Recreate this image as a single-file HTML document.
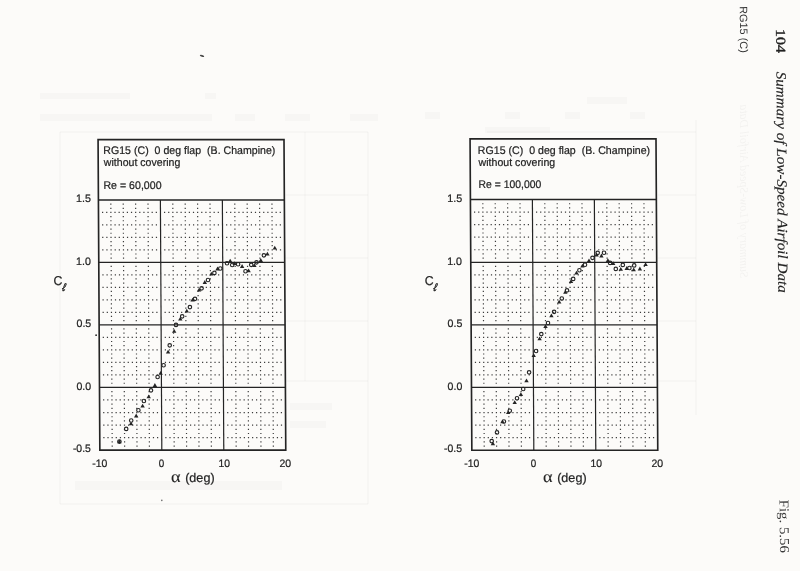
<!DOCTYPE html>
<html><head><meta charset="utf-8"><title>RG15 (C) lift curves</title>
<style>
html,body{margin:0;padding:0;background:#fcfbf9;}
body{width:800px;height:571px;overflow:hidden;}
svg{display:block;}
text{fill:#242424;}
.t,.h,.ax,.cl{font-family:"Liberation Sans",Arial,sans-serif;stroke:#242424;stroke-width:0.22px;}
.t{font-size:10.8px;}
.h{font-size:11px;}
.ax{font-size:12.6px;}
.cl{font-size:12.9px;}
.al{font-family:"Liberation Serif",serif;font-size:16.5px;stroke:#242424;stroke-width:0.1px;}
.ell{font-family:"Liberation Serif",serif;font-style:italic;font-size:10.5px;stroke:#242424;stroke-width:0.45px;}
.rg{font-family:"Liberation Sans",Arial,sans-serif;font-size:10.8px;fill:#333;}
.pn{font-family:"Liberation Serif",serif;font-size:13.6px;fill:#222;stroke:#222;stroke-width:0.35px;}
.ti{font-family:"Liberation Serif",serif;font-style:italic;font-size:14.2px;fill:#222;stroke:#222;stroke-width:0.15px;}
.fg{font-family:"Liberation Serif",serif;font-size:13.6px;fill:#3a3a3a;}
</style></head>
<body>
<svg width="800" height="571" viewBox="0 0 800 571">
<rect width="800" height="571" fill="#fcfbf9"/>
<g><line x1="60.0" y1="132.0" x2="368.0" y2="132.0" stroke="#000" stroke-opacity="0.042" stroke-width="1.0"/>
<line x1="487.0" y1="132.0" x2="696.0" y2="132.0" stroke="#000" stroke-opacity="0.042" stroke-width="1.0"/>
<line x1="285.5" y1="195.0" x2="368.0" y2="195.0" stroke="#000" stroke-opacity="0.042" stroke-width="1.0"/>
<line x1="658.0" y1="195.0" x2="696.0" y2="195.0" stroke="#000" stroke-opacity="0.042" stroke-width="1.0"/>
<line x1="285.5" y1="258.0" x2="368.0" y2="258.0" stroke="#000" stroke-opacity="0.042" stroke-width="1.0"/>
<line x1="658.0" y1="258.0" x2="696.0" y2="258.0" stroke="#000" stroke-opacity="0.042" stroke-width="1.0"/>
<line x1="285.5" y1="321.0" x2="368.0" y2="321.0" stroke="#000" stroke-opacity="0.042" stroke-width="1.0"/>
<line x1="658.0" y1="321.0" x2="696.0" y2="321.0" stroke="#000" stroke-opacity="0.042" stroke-width="1.0"/>
<line x1="285.5" y1="381.0" x2="368.0" y2="381.0" stroke="#000" stroke-opacity="0.042" stroke-width="1.0"/>
<line x1="658.0" y1="381.0" x2="696.0" y2="381.0" stroke="#000" stroke-opacity="0.042" stroke-width="1.0"/>
<line x1="60.0" y1="504.0" x2="368.0" y2="504.0" stroke="#000" stroke-opacity="0.042" stroke-width="1.0"/>
<line x1="60.0" y1="132.0" x2="60.0" y2="504.0" stroke="#000" stroke-opacity="0.042" stroke-width="1.0"/>
<line x1="368.0" y1="132.0" x2="368.0" y2="504.0" stroke="#000" stroke-opacity="0.042" stroke-width="1.0"/>
<line x1="696.0" y1="120.0" x2="696.0" y2="415.0" stroke="#000" stroke-opacity="0.042" stroke-width="1.0"/>
<line x1="305.0" y1="132.0" x2="305.0" y2="381.0" stroke="#000" stroke-opacity="0.035" stroke-width="1.0"/>
<rect x="40.0" y="93.0" width="90.0" height="6.0" fill="#000" fill-opacity="0.020"/>
<rect x="205.0" y="93.0" width="11.0" height="6.0" fill="#000" fill-opacity="0.020"/>
<rect x="40.0" y="114.0" width="172.0" height="7.0" fill="#000" fill-opacity="0.020"/>
<rect x="235.0" y="114.0" width="20.0" height="7.0" fill="#000" fill-opacity="0.020"/>
<rect x="285.0" y="114.0" width="25.0" height="7.0" fill="#000" fill-opacity="0.020"/>
<rect x="350.0" y="114.0" width="28.0" height="7.0" fill="#000" fill-opacity="0.020"/>
<rect x="425.0" y="112.0" width="15.0" height="7.0" fill="#000" fill-opacity="0.020"/>
<rect x="505.0" y="112.0" width="15.0" height="7.0" fill="#000" fill-opacity="0.020"/>
<rect x="565.0" y="112.0" width="15.0" height="7.0" fill="#000" fill-opacity="0.020"/>
<rect x="630.0" y="112.0" width="15.0" height="7.0" fill="#000" fill-opacity="0.020"/>
<rect x="587.0" y="97.0" width="40.0" height="7.0" fill="#000" fill-opacity="0.020"/>
<rect x="485.0" y="127.0" width="65.0" height="6.0" fill="#000" fill-opacity="0.020"/>
<rect x="290.0" y="403.0" width="42.0" height="7.0" fill="#000" fill-opacity="0.020"/>
<rect x="290.0" y="421.0" width="36.0" height="7.0" fill="#000" fill-opacity="0.020"/>
<rect x="75.0" y="481.0" width="207.0" height="9.0" fill="#000" fill-opacity="0.020"/>
<text transform="translate(739.5 105) scale(1 -1) rotate(90) translate(-173.00 0)" font-family="Liberation Serif" font-style="italic" font-size="13.00" fill="#000" fill-opacity="0.045" textLength="173.62" lengthAdjust="spacingAndGlyphs">Summary of Low-Speed Airfoil Data</text></g>
<g transform="translate(98.07 139.56) matrix(1 -0.00000 0.00570 1 0 0) translate(-98.07 -139.56)">
<path d="M109.87 203.55h1.2v1.2h-1.2zM109.87 207.71h1.2v1.2h-1.2zM109.87 211.86h1.2v1.2h-1.2zM109.87 216.01h1.2v1.2h-1.2zM109.87 220.17h1.2v1.2h-1.2zM109.87 224.32h1.2v1.2h-1.2zM109.87 228.47h1.2v1.2h-1.2zM109.87 232.63h1.2v1.2h-1.2zM109.87 236.78h1.2v1.2h-1.2zM109.87 240.93h1.2v1.2h-1.2zM109.87 245.09h1.2v1.2h-1.2zM109.87 249.24h1.2v1.2h-1.2zM109.87 253.39h1.2v1.2h-1.2zM109.87 257.55h1.2v1.2h-1.2zM109.87 265.87h1.2v1.2h-1.2zM109.87 270.03h1.2v1.2h-1.2zM109.87 274.20h1.2v1.2h-1.2zM109.87 278.37h1.2v1.2h-1.2zM109.87 282.53h1.2v1.2h-1.2zM109.87 286.70h1.2v1.2h-1.2zM109.87 290.87h1.2v1.2h-1.2zM109.87 295.03h1.2v1.2h-1.2zM109.87 299.20h1.2v1.2h-1.2zM109.87 303.37h1.2v1.2h-1.2zM109.87 307.53h1.2v1.2h-1.2zM109.87 311.70h1.2v1.2h-1.2zM109.87 315.87h1.2v1.2h-1.2zM109.87 320.03h1.2v1.2h-1.2zM109.87 328.37h1.2v1.2h-1.2zM109.87 332.55h1.2v1.2h-1.2zM109.87 336.72h1.2v1.2h-1.2zM109.87 340.89h1.2v1.2h-1.2zM109.87 345.07h1.2v1.2h-1.2zM109.87 349.24h1.2v1.2h-1.2zM109.87 353.41h1.2v1.2h-1.2zM109.87 357.59h1.2v1.2h-1.2zM109.87 361.76h1.2v1.2h-1.2zM109.87 365.93h1.2v1.2h-1.2zM109.87 370.11h1.2v1.2h-1.2zM109.87 374.28h1.2v1.2h-1.2zM109.87 378.45h1.2v1.2h-1.2zM109.87 382.63h1.2v1.2h-1.2zM109.87 390.99h1.2v1.2h-1.2zM109.87 395.18h1.2v1.2h-1.2zM109.87 399.37h1.2v1.2h-1.2zM109.87 403.56h1.2v1.2h-1.2zM109.87 407.75h1.2v1.2h-1.2zM109.87 411.94h1.2v1.2h-1.2zM109.87 416.13h1.2v1.2h-1.2zM109.87 420.32h1.2v1.2h-1.2zM109.87 424.51h1.2v1.2h-1.2zM109.87 428.70h1.2v1.2h-1.2zM109.87 432.89h1.2v1.2h-1.2zM109.87 437.08h1.2v1.2h-1.2zM109.87 441.27h1.2v1.2h-1.2zM109.87 445.46h1.2v1.2h-1.2zM122.26 203.55h1.2v1.2h-1.2zM122.26 207.71h1.2v1.2h-1.2zM122.26 211.86h1.2v1.2h-1.2zM122.26 216.01h1.2v1.2h-1.2zM122.26 220.17h1.2v1.2h-1.2zM122.26 224.32h1.2v1.2h-1.2zM122.26 228.47h1.2v1.2h-1.2zM122.26 232.63h1.2v1.2h-1.2zM122.26 236.78h1.2v1.2h-1.2zM122.26 240.93h1.2v1.2h-1.2zM122.26 245.09h1.2v1.2h-1.2zM122.26 249.24h1.2v1.2h-1.2zM122.26 253.39h1.2v1.2h-1.2zM122.26 257.55h1.2v1.2h-1.2zM122.26 265.87h1.2v1.2h-1.2zM122.26 270.03h1.2v1.2h-1.2zM122.26 274.20h1.2v1.2h-1.2zM122.26 278.37h1.2v1.2h-1.2zM122.26 282.53h1.2v1.2h-1.2zM122.26 286.70h1.2v1.2h-1.2zM122.26 290.87h1.2v1.2h-1.2zM122.26 295.03h1.2v1.2h-1.2zM122.26 299.20h1.2v1.2h-1.2zM122.26 303.37h1.2v1.2h-1.2zM122.26 307.53h1.2v1.2h-1.2zM122.26 311.70h1.2v1.2h-1.2zM122.26 315.87h1.2v1.2h-1.2zM122.26 320.03h1.2v1.2h-1.2zM122.26 328.37h1.2v1.2h-1.2zM122.26 332.55h1.2v1.2h-1.2zM122.26 336.72h1.2v1.2h-1.2zM122.26 340.89h1.2v1.2h-1.2zM122.26 345.07h1.2v1.2h-1.2zM122.26 349.24h1.2v1.2h-1.2zM122.26 353.41h1.2v1.2h-1.2zM122.26 357.59h1.2v1.2h-1.2zM122.26 361.76h1.2v1.2h-1.2zM122.26 365.93h1.2v1.2h-1.2zM122.26 370.11h1.2v1.2h-1.2zM122.26 374.28h1.2v1.2h-1.2zM122.26 378.45h1.2v1.2h-1.2zM122.26 382.63h1.2v1.2h-1.2zM122.26 390.99h1.2v1.2h-1.2zM122.26 395.18h1.2v1.2h-1.2zM122.26 399.37h1.2v1.2h-1.2zM122.26 403.56h1.2v1.2h-1.2zM122.26 407.75h1.2v1.2h-1.2zM122.26 411.94h1.2v1.2h-1.2zM122.26 416.13h1.2v1.2h-1.2zM122.26 420.32h1.2v1.2h-1.2zM122.26 424.51h1.2v1.2h-1.2zM122.26 428.70h1.2v1.2h-1.2zM122.26 432.89h1.2v1.2h-1.2zM122.26 437.08h1.2v1.2h-1.2zM122.26 441.27h1.2v1.2h-1.2zM122.26 445.46h1.2v1.2h-1.2zM134.66 203.55h1.2v1.2h-1.2zM134.66 207.71h1.2v1.2h-1.2zM134.66 211.86h1.2v1.2h-1.2zM134.66 216.01h1.2v1.2h-1.2zM134.66 220.17h1.2v1.2h-1.2zM134.66 224.32h1.2v1.2h-1.2zM134.66 228.47h1.2v1.2h-1.2zM134.66 232.63h1.2v1.2h-1.2zM134.66 236.78h1.2v1.2h-1.2zM134.66 240.93h1.2v1.2h-1.2zM134.66 245.09h1.2v1.2h-1.2zM134.66 249.24h1.2v1.2h-1.2zM134.66 253.39h1.2v1.2h-1.2zM134.66 257.55h1.2v1.2h-1.2zM134.66 265.87h1.2v1.2h-1.2zM134.66 270.03h1.2v1.2h-1.2zM134.66 274.20h1.2v1.2h-1.2zM134.66 278.37h1.2v1.2h-1.2zM134.66 282.53h1.2v1.2h-1.2zM134.66 286.70h1.2v1.2h-1.2zM134.66 290.87h1.2v1.2h-1.2zM134.66 295.03h1.2v1.2h-1.2zM134.66 299.20h1.2v1.2h-1.2zM134.66 303.37h1.2v1.2h-1.2zM134.66 307.53h1.2v1.2h-1.2zM134.66 311.70h1.2v1.2h-1.2zM134.66 315.87h1.2v1.2h-1.2zM134.66 320.03h1.2v1.2h-1.2zM134.66 328.37h1.2v1.2h-1.2zM134.66 332.55h1.2v1.2h-1.2zM134.66 336.72h1.2v1.2h-1.2zM134.66 340.89h1.2v1.2h-1.2zM134.66 345.07h1.2v1.2h-1.2zM134.66 349.24h1.2v1.2h-1.2zM134.66 353.41h1.2v1.2h-1.2zM134.66 357.59h1.2v1.2h-1.2zM134.66 361.76h1.2v1.2h-1.2zM134.66 365.93h1.2v1.2h-1.2zM134.66 370.11h1.2v1.2h-1.2zM134.66 374.28h1.2v1.2h-1.2zM134.66 378.45h1.2v1.2h-1.2zM134.66 382.63h1.2v1.2h-1.2zM134.66 390.99h1.2v1.2h-1.2zM134.66 395.18h1.2v1.2h-1.2zM134.66 399.37h1.2v1.2h-1.2zM134.66 403.56h1.2v1.2h-1.2zM134.66 407.75h1.2v1.2h-1.2zM134.66 411.94h1.2v1.2h-1.2zM134.66 416.13h1.2v1.2h-1.2zM134.66 420.32h1.2v1.2h-1.2zM134.66 424.51h1.2v1.2h-1.2zM134.66 428.70h1.2v1.2h-1.2zM134.66 432.89h1.2v1.2h-1.2zM134.66 437.08h1.2v1.2h-1.2zM134.66 441.27h1.2v1.2h-1.2zM134.66 445.46h1.2v1.2h-1.2zM147.05 203.55h1.2v1.2h-1.2zM147.05 207.71h1.2v1.2h-1.2zM147.05 211.86h1.2v1.2h-1.2zM147.05 216.01h1.2v1.2h-1.2zM147.05 220.17h1.2v1.2h-1.2zM147.05 224.32h1.2v1.2h-1.2zM147.05 228.47h1.2v1.2h-1.2zM147.05 232.63h1.2v1.2h-1.2zM147.05 236.78h1.2v1.2h-1.2zM147.05 240.93h1.2v1.2h-1.2zM147.05 245.09h1.2v1.2h-1.2zM147.05 249.24h1.2v1.2h-1.2zM147.05 253.39h1.2v1.2h-1.2zM147.05 257.55h1.2v1.2h-1.2zM147.05 265.87h1.2v1.2h-1.2zM147.05 270.03h1.2v1.2h-1.2zM147.05 274.20h1.2v1.2h-1.2zM147.05 278.37h1.2v1.2h-1.2zM147.05 282.53h1.2v1.2h-1.2zM147.05 286.70h1.2v1.2h-1.2zM147.05 290.87h1.2v1.2h-1.2zM147.05 295.03h1.2v1.2h-1.2zM147.05 299.20h1.2v1.2h-1.2zM147.05 303.37h1.2v1.2h-1.2zM147.05 307.53h1.2v1.2h-1.2zM147.05 311.70h1.2v1.2h-1.2zM147.05 315.87h1.2v1.2h-1.2zM147.05 320.03h1.2v1.2h-1.2zM147.05 328.37h1.2v1.2h-1.2zM147.05 332.55h1.2v1.2h-1.2zM147.05 336.72h1.2v1.2h-1.2zM147.05 340.89h1.2v1.2h-1.2zM147.05 345.07h1.2v1.2h-1.2zM147.05 349.24h1.2v1.2h-1.2zM147.05 353.41h1.2v1.2h-1.2zM147.05 357.59h1.2v1.2h-1.2zM147.05 361.76h1.2v1.2h-1.2zM147.05 365.93h1.2v1.2h-1.2zM147.05 370.11h1.2v1.2h-1.2zM147.05 374.28h1.2v1.2h-1.2zM147.05 378.45h1.2v1.2h-1.2zM147.05 382.63h1.2v1.2h-1.2zM147.05 390.99h1.2v1.2h-1.2zM147.05 395.18h1.2v1.2h-1.2zM147.05 399.37h1.2v1.2h-1.2zM147.05 403.56h1.2v1.2h-1.2zM147.05 407.75h1.2v1.2h-1.2zM147.05 411.94h1.2v1.2h-1.2zM147.05 416.13h1.2v1.2h-1.2zM147.05 420.32h1.2v1.2h-1.2zM147.05 424.51h1.2v1.2h-1.2zM147.05 428.70h1.2v1.2h-1.2zM147.05 432.89h1.2v1.2h-1.2zM147.05 437.08h1.2v1.2h-1.2zM147.05 441.27h1.2v1.2h-1.2zM147.05 445.46h1.2v1.2h-1.2zM171.84 203.55h1.2v1.2h-1.2zM171.84 207.71h1.2v1.2h-1.2zM171.84 211.86h1.2v1.2h-1.2zM171.84 216.01h1.2v1.2h-1.2zM171.84 220.17h1.2v1.2h-1.2zM171.84 224.32h1.2v1.2h-1.2zM171.84 228.47h1.2v1.2h-1.2zM171.84 232.63h1.2v1.2h-1.2zM171.84 236.78h1.2v1.2h-1.2zM171.84 240.93h1.2v1.2h-1.2zM171.84 245.09h1.2v1.2h-1.2zM171.84 249.24h1.2v1.2h-1.2zM171.84 253.39h1.2v1.2h-1.2zM171.84 257.55h1.2v1.2h-1.2zM171.84 265.87h1.2v1.2h-1.2zM171.84 270.03h1.2v1.2h-1.2zM171.84 274.20h1.2v1.2h-1.2zM171.84 278.37h1.2v1.2h-1.2zM171.84 282.53h1.2v1.2h-1.2zM171.84 286.70h1.2v1.2h-1.2zM171.84 290.87h1.2v1.2h-1.2zM171.84 295.03h1.2v1.2h-1.2zM171.84 299.20h1.2v1.2h-1.2zM171.84 303.37h1.2v1.2h-1.2zM171.84 307.53h1.2v1.2h-1.2zM171.84 311.70h1.2v1.2h-1.2zM171.84 315.87h1.2v1.2h-1.2zM171.84 320.03h1.2v1.2h-1.2zM171.84 328.37h1.2v1.2h-1.2zM171.84 332.55h1.2v1.2h-1.2zM171.84 336.72h1.2v1.2h-1.2zM171.84 340.89h1.2v1.2h-1.2zM171.84 345.07h1.2v1.2h-1.2zM171.84 349.24h1.2v1.2h-1.2zM171.84 353.41h1.2v1.2h-1.2zM171.84 357.59h1.2v1.2h-1.2zM171.84 361.76h1.2v1.2h-1.2zM171.84 365.93h1.2v1.2h-1.2zM171.84 370.11h1.2v1.2h-1.2zM171.84 374.28h1.2v1.2h-1.2zM171.84 378.45h1.2v1.2h-1.2zM171.84 382.63h1.2v1.2h-1.2zM171.84 390.99h1.2v1.2h-1.2zM171.84 395.18h1.2v1.2h-1.2zM171.84 399.37h1.2v1.2h-1.2zM171.84 403.56h1.2v1.2h-1.2zM171.84 407.75h1.2v1.2h-1.2zM171.84 411.94h1.2v1.2h-1.2zM171.84 416.13h1.2v1.2h-1.2zM171.84 420.32h1.2v1.2h-1.2zM171.84 424.51h1.2v1.2h-1.2zM171.84 428.70h1.2v1.2h-1.2zM171.84 432.89h1.2v1.2h-1.2zM171.84 437.08h1.2v1.2h-1.2zM171.84 441.27h1.2v1.2h-1.2zM171.84 445.46h1.2v1.2h-1.2zM184.24 203.55h1.2v1.2h-1.2zM184.24 207.71h1.2v1.2h-1.2zM184.24 211.86h1.2v1.2h-1.2zM184.24 216.01h1.2v1.2h-1.2zM184.24 220.17h1.2v1.2h-1.2zM184.24 224.32h1.2v1.2h-1.2zM184.24 228.47h1.2v1.2h-1.2zM184.24 232.63h1.2v1.2h-1.2zM184.24 236.78h1.2v1.2h-1.2zM184.24 240.93h1.2v1.2h-1.2zM184.24 245.09h1.2v1.2h-1.2zM184.24 249.24h1.2v1.2h-1.2zM184.24 253.39h1.2v1.2h-1.2zM184.24 257.55h1.2v1.2h-1.2zM184.24 265.87h1.2v1.2h-1.2zM184.24 270.03h1.2v1.2h-1.2zM184.24 274.20h1.2v1.2h-1.2zM184.24 278.37h1.2v1.2h-1.2zM184.24 282.53h1.2v1.2h-1.2zM184.24 286.70h1.2v1.2h-1.2zM184.24 290.87h1.2v1.2h-1.2zM184.24 295.03h1.2v1.2h-1.2zM184.24 299.20h1.2v1.2h-1.2zM184.24 303.37h1.2v1.2h-1.2zM184.24 307.53h1.2v1.2h-1.2zM184.24 311.70h1.2v1.2h-1.2zM184.24 315.87h1.2v1.2h-1.2zM184.24 320.03h1.2v1.2h-1.2zM184.24 328.37h1.2v1.2h-1.2zM184.24 332.55h1.2v1.2h-1.2zM184.24 336.72h1.2v1.2h-1.2zM184.24 340.89h1.2v1.2h-1.2zM184.24 345.07h1.2v1.2h-1.2zM184.24 349.24h1.2v1.2h-1.2zM184.24 353.41h1.2v1.2h-1.2zM184.24 357.59h1.2v1.2h-1.2zM184.24 361.76h1.2v1.2h-1.2zM184.24 365.93h1.2v1.2h-1.2zM184.24 370.11h1.2v1.2h-1.2zM184.24 374.28h1.2v1.2h-1.2zM184.24 378.45h1.2v1.2h-1.2zM184.24 382.63h1.2v1.2h-1.2zM184.24 390.99h1.2v1.2h-1.2zM184.24 395.18h1.2v1.2h-1.2zM184.24 399.37h1.2v1.2h-1.2zM184.24 403.56h1.2v1.2h-1.2zM184.24 407.75h1.2v1.2h-1.2zM184.24 411.94h1.2v1.2h-1.2zM184.24 416.13h1.2v1.2h-1.2zM184.24 420.32h1.2v1.2h-1.2zM184.24 424.51h1.2v1.2h-1.2zM184.24 428.70h1.2v1.2h-1.2zM184.24 432.89h1.2v1.2h-1.2zM184.24 437.08h1.2v1.2h-1.2zM184.24 441.27h1.2v1.2h-1.2zM184.24 445.46h1.2v1.2h-1.2zM196.63 203.55h1.2v1.2h-1.2zM196.63 207.71h1.2v1.2h-1.2zM196.63 211.86h1.2v1.2h-1.2zM196.63 216.01h1.2v1.2h-1.2zM196.63 220.17h1.2v1.2h-1.2zM196.63 224.32h1.2v1.2h-1.2zM196.63 228.47h1.2v1.2h-1.2zM196.63 232.63h1.2v1.2h-1.2zM196.63 236.78h1.2v1.2h-1.2zM196.63 240.93h1.2v1.2h-1.2zM196.63 245.09h1.2v1.2h-1.2zM196.63 249.24h1.2v1.2h-1.2zM196.63 253.39h1.2v1.2h-1.2zM196.63 257.55h1.2v1.2h-1.2zM196.63 265.87h1.2v1.2h-1.2zM196.63 270.03h1.2v1.2h-1.2zM196.63 274.20h1.2v1.2h-1.2zM196.63 278.37h1.2v1.2h-1.2zM196.63 282.53h1.2v1.2h-1.2zM196.63 286.70h1.2v1.2h-1.2zM196.63 290.87h1.2v1.2h-1.2zM196.63 295.03h1.2v1.2h-1.2zM196.63 299.20h1.2v1.2h-1.2zM196.63 303.37h1.2v1.2h-1.2zM196.63 307.53h1.2v1.2h-1.2zM196.63 311.70h1.2v1.2h-1.2zM196.63 315.87h1.2v1.2h-1.2zM196.63 320.03h1.2v1.2h-1.2zM196.63 328.37h1.2v1.2h-1.2zM196.63 332.55h1.2v1.2h-1.2zM196.63 336.72h1.2v1.2h-1.2zM196.63 340.89h1.2v1.2h-1.2zM196.63 345.07h1.2v1.2h-1.2zM196.63 349.24h1.2v1.2h-1.2zM196.63 353.41h1.2v1.2h-1.2zM196.63 357.59h1.2v1.2h-1.2zM196.63 361.76h1.2v1.2h-1.2zM196.63 365.93h1.2v1.2h-1.2zM196.63 370.11h1.2v1.2h-1.2zM196.63 374.28h1.2v1.2h-1.2zM196.63 378.45h1.2v1.2h-1.2zM196.63 382.63h1.2v1.2h-1.2zM196.63 390.99h1.2v1.2h-1.2zM196.63 395.18h1.2v1.2h-1.2zM196.63 399.37h1.2v1.2h-1.2zM196.63 403.56h1.2v1.2h-1.2zM196.63 407.75h1.2v1.2h-1.2zM196.63 411.94h1.2v1.2h-1.2zM196.63 416.13h1.2v1.2h-1.2zM196.63 420.32h1.2v1.2h-1.2zM196.63 424.51h1.2v1.2h-1.2zM196.63 428.70h1.2v1.2h-1.2zM196.63 432.89h1.2v1.2h-1.2zM196.63 437.08h1.2v1.2h-1.2zM196.63 441.27h1.2v1.2h-1.2zM196.63 445.46h1.2v1.2h-1.2zM209.03 203.55h1.2v1.2h-1.2zM209.03 207.71h1.2v1.2h-1.2zM209.03 211.86h1.2v1.2h-1.2zM209.03 216.01h1.2v1.2h-1.2zM209.03 220.17h1.2v1.2h-1.2zM209.03 224.32h1.2v1.2h-1.2zM209.03 228.47h1.2v1.2h-1.2zM209.03 232.63h1.2v1.2h-1.2zM209.03 236.78h1.2v1.2h-1.2zM209.03 240.93h1.2v1.2h-1.2zM209.03 245.09h1.2v1.2h-1.2zM209.03 249.24h1.2v1.2h-1.2zM209.03 253.39h1.2v1.2h-1.2zM209.03 257.55h1.2v1.2h-1.2zM209.03 265.87h1.2v1.2h-1.2zM209.03 270.03h1.2v1.2h-1.2zM209.03 274.20h1.2v1.2h-1.2zM209.03 278.37h1.2v1.2h-1.2zM209.03 282.53h1.2v1.2h-1.2zM209.03 286.70h1.2v1.2h-1.2zM209.03 290.87h1.2v1.2h-1.2zM209.03 295.03h1.2v1.2h-1.2zM209.03 299.20h1.2v1.2h-1.2zM209.03 303.37h1.2v1.2h-1.2zM209.03 307.53h1.2v1.2h-1.2zM209.03 311.70h1.2v1.2h-1.2zM209.03 315.87h1.2v1.2h-1.2zM209.03 320.03h1.2v1.2h-1.2zM209.03 328.37h1.2v1.2h-1.2zM209.03 332.55h1.2v1.2h-1.2zM209.03 336.72h1.2v1.2h-1.2zM209.03 340.89h1.2v1.2h-1.2zM209.03 345.07h1.2v1.2h-1.2zM209.03 349.24h1.2v1.2h-1.2zM209.03 353.41h1.2v1.2h-1.2zM209.03 357.59h1.2v1.2h-1.2zM209.03 361.76h1.2v1.2h-1.2zM209.03 365.93h1.2v1.2h-1.2zM209.03 370.11h1.2v1.2h-1.2zM209.03 374.28h1.2v1.2h-1.2zM209.03 378.45h1.2v1.2h-1.2zM209.03 382.63h1.2v1.2h-1.2zM209.03 390.99h1.2v1.2h-1.2zM209.03 395.18h1.2v1.2h-1.2zM209.03 399.37h1.2v1.2h-1.2zM209.03 403.56h1.2v1.2h-1.2zM209.03 407.75h1.2v1.2h-1.2zM209.03 411.94h1.2v1.2h-1.2zM209.03 416.13h1.2v1.2h-1.2zM209.03 420.32h1.2v1.2h-1.2zM209.03 424.51h1.2v1.2h-1.2zM209.03 428.70h1.2v1.2h-1.2zM209.03 432.89h1.2v1.2h-1.2zM209.03 437.08h1.2v1.2h-1.2zM209.03 441.27h1.2v1.2h-1.2zM209.03 445.46h1.2v1.2h-1.2zM233.82 203.55h1.2v1.2h-1.2zM233.82 207.71h1.2v1.2h-1.2zM233.82 211.86h1.2v1.2h-1.2zM233.82 216.01h1.2v1.2h-1.2zM233.82 220.17h1.2v1.2h-1.2zM233.82 224.32h1.2v1.2h-1.2zM233.82 228.47h1.2v1.2h-1.2zM233.82 232.63h1.2v1.2h-1.2zM233.82 236.78h1.2v1.2h-1.2zM233.82 240.93h1.2v1.2h-1.2zM233.82 245.09h1.2v1.2h-1.2zM233.82 249.24h1.2v1.2h-1.2zM233.82 253.39h1.2v1.2h-1.2zM233.82 257.55h1.2v1.2h-1.2zM233.82 265.87h1.2v1.2h-1.2zM233.82 270.03h1.2v1.2h-1.2zM233.82 274.20h1.2v1.2h-1.2zM233.82 278.37h1.2v1.2h-1.2zM233.82 282.53h1.2v1.2h-1.2zM233.82 286.70h1.2v1.2h-1.2zM233.82 290.87h1.2v1.2h-1.2zM233.82 295.03h1.2v1.2h-1.2zM233.82 299.20h1.2v1.2h-1.2zM233.82 303.37h1.2v1.2h-1.2zM233.82 307.53h1.2v1.2h-1.2zM233.82 311.70h1.2v1.2h-1.2zM233.82 315.87h1.2v1.2h-1.2zM233.82 320.03h1.2v1.2h-1.2zM233.82 328.37h1.2v1.2h-1.2zM233.82 332.55h1.2v1.2h-1.2zM233.82 336.72h1.2v1.2h-1.2zM233.82 340.89h1.2v1.2h-1.2zM233.82 345.07h1.2v1.2h-1.2zM233.82 349.24h1.2v1.2h-1.2zM233.82 353.41h1.2v1.2h-1.2zM233.82 357.59h1.2v1.2h-1.2zM233.82 361.76h1.2v1.2h-1.2zM233.82 365.93h1.2v1.2h-1.2zM233.82 370.11h1.2v1.2h-1.2zM233.82 374.28h1.2v1.2h-1.2zM233.82 378.45h1.2v1.2h-1.2zM233.82 382.63h1.2v1.2h-1.2zM233.82 390.99h1.2v1.2h-1.2zM233.82 395.18h1.2v1.2h-1.2zM233.82 399.37h1.2v1.2h-1.2zM233.82 403.56h1.2v1.2h-1.2zM233.82 407.75h1.2v1.2h-1.2zM233.82 411.94h1.2v1.2h-1.2zM233.82 416.13h1.2v1.2h-1.2zM233.82 420.32h1.2v1.2h-1.2zM233.82 424.51h1.2v1.2h-1.2zM233.82 428.70h1.2v1.2h-1.2zM233.82 432.89h1.2v1.2h-1.2zM233.82 437.08h1.2v1.2h-1.2zM233.82 441.27h1.2v1.2h-1.2zM233.82 445.46h1.2v1.2h-1.2zM246.21 203.55h1.2v1.2h-1.2zM246.21 207.71h1.2v1.2h-1.2zM246.21 211.86h1.2v1.2h-1.2zM246.21 216.01h1.2v1.2h-1.2zM246.21 220.17h1.2v1.2h-1.2zM246.21 224.32h1.2v1.2h-1.2zM246.21 228.47h1.2v1.2h-1.2zM246.21 232.63h1.2v1.2h-1.2zM246.21 236.78h1.2v1.2h-1.2zM246.21 240.93h1.2v1.2h-1.2zM246.21 245.09h1.2v1.2h-1.2zM246.21 249.24h1.2v1.2h-1.2zM246.21 253.39h1.2v1.2h-1.2zM246.21 257.55h1.2v1.2h-1.2zM246.21 265.87h1.2v1.2h-1.2zM246.21 270.03h1.2v1.2h-1.2zM246.21 274.20h1.2v1.2h-1.2zM246.21 278.37h1.2v1.2h-1.2zM246.21 282.53h1.2v1.2h-1.2zM246.21 286.70h1.2v1.2h-1.2zM246.21 290.87h1.2v1.2h-1.2zM246.21 295.03h1.2v1.2h-1.2zM246.21 299.20h1.2v1.2h-1.2zM246.21 303.37h1.2v1.2h-1.2zM246.21 307.53h1.2v1.2h-1.2zM246.21 311.70h1.2v1.2h-1.2zM246.21 315.87h1.2v1.2h-1.2zM246.21 320.03h1.2v1.2h-1.2zM246.21 328.37h1.2v1.2h-1.2zM246.21 332.55h1.2v1.2h-1.2zM246.21 336.72h1.2v1.2h-1.2zM246.21 340.89h1.2v1.2h-1.2zM246.21 345.07h1.2v1.2h-1.2zM246.21 349.24h1.2v1.2h-1.2zM246.21 353.41h1.2v1.2h-1.2zM246.21 357.59h1.2v1.2h-1.2zM246.21 361.76h1.2v1.2h-1.2zM246.21 365.93h1.2v1.2h-1.2zM246.21 370.11h1.2v1.2h-1.2zM246.21 374.28h1.2v1.2h-1.2zM246.21 378.45h1.2v1.2h-1.2zM246.21 382.63h1.2v1.2h-1.2zM246.21 390.99h1.2v1.2h-1.2zM246.21 395.18h1.2v1.2h-1.2zM246.21 399.37h1.2v1.2h-1.2zM246.21 403.56h1.2v1.2h-1.2zM246.21 407.75h1.2v1.2h-1.2zM246.21 411.94h1.2v1.2h-1.2zM246.21 416.13h1.2v1.2h-1.2zM246.21 420.32h1.2v1.2h-1.2zM246.21 424.51h1.2v1.2h-1.2zM246.21 428.70h1.2v1.2h-1.2zM246.21 432.89h1.2v1.2h-1.2zM246.21 437.08h1.2v1.2h-1.2zM246.21 441.27h1.2v1.2h-1.2zM246.21 445.46h1.2v1.2h-1.2zM258.61 203.55h1.2v1.2h-1.2zM258.61 207.71h1.2v1.2h-1.2zM258.61 211.86h1.2v1.2h-1.2zM258.61 216.01h1.2v1.2h-1.2zM258.61 220.17h1.2v1.2h-1.2zM258.61 224.32h1.2v1.2h-1.2zM258.61 228.47h1.2v1.2h-1.2zM258.61 232.63h1.2v1.2h-1.2zM258.61 236.78h1.2v1.2h-1.2zM258.61 240.93h1.2v1.2h-1.2zM258.61 245.09h1.2v1.2h-1.2zM258.61 249.24h1.2v1.2h-1.2zM258.61 253.39h1.2v1.2h-1.2zM258.61 257.55h1.2v1.2h-1.2zM258.61 265.87h1.2v1.2h-1.2zM258.61 270.03h1.2v1.2h-1.2zM258.61 274.20h1.2v1.2h-1.2zM258.61 278.37h1.2v1.2h-1.2zM258.61 282.53h1.2v1.2h-1.2zM258.61 286.70h1.2v1.2h-1.2zM258.61 290.87h1.2v1.2h-1.2zM258.61 295.03h1.2v1.2h-1.2zM258.61 299.20h1.2v1.2h-1.2zM258.61 303.37h1.2v1.2h-1.2zM258.61 307.53h1.2v1.2h-1.2zM258.61 311.70h1.2v1.2h-1.2zM258.61 315.87h1.2v1.2h-1.2zM258.61 320.03h1.2v1.2h-1.2zM258.61 328.37h1.2v1.2h-1.2zM258.61 332.55h1.2v1.2h-1.2zM258.61 336.72h1.2v1.2h-1.2zM258.61 340.89h1.2v1.2h-1.2zM258.61 345.07h1.2v1.2h-1.2zM258.61 349.24h1.2v1.2h-1.2zM258.61 353.41h1.2v1.2h-1.2zM258.61 357.59h1.2v1.2h-1.2zM258.61 361.76h1.2v1.2h-1.2zM258.61 365.93h1.2v1.2h-1.2zM258.61 370.11h1.2v1.2h-1.2zM258.61 374.28h1.2v1.2h-1.2zM258.61 378.45h1.2v1.2h-1.2zM258.61 382.63h1.2v1.2h-1.2zM258.61 390.99h1.2v1.2h-1.2zM258.61 395.18h1.2v1.2h-1.2zM258.61 399.37h1.2v1.2h-1.2zM258.61 403.56h1.2v1.2h-1.2zM258.61 407.75h1.2v1.2h-1.2zM258.61 411.94h1.2v1.2h-1.2zM258.61 416.13h1.2v1.2h-1.2zM258.61 420.32h1.2v1.2h-1.2zM258.61 424.51h1.2v1.2h-1.2zM258.61 428.70h1.2v1.2h-1.2zM258.61 432.89h1.2v1.2h-1.2zM258.61 437.08h1.2v1.2h-1.2zM258.61 441.27h1.2v1.2h-1.2zM258.61 445.46h1.2v1.2h-1.2zM271.00 203.55h1.2v1.2h-1.2zM271.00 207.71h1.2v1.2h-1.2zM271.00 211.86h1.2v1.2h-1.2zM271.00 216.01h1.2v1.2h-1.2zM271.00 220.17h1.2v1.2h-1.2zM271.00 224.32h1.2v1.2h-1.2zM271.00 228.47h1.2v1.2h-1.2zM271.00 232.63h1.2v1.2h-1.2zM271.00 236.78h1.2v1.2h-1.2zM271.00 240.93h1.2v1.2h-1.2zM271.00 245.09h1.2v1.2h-1.2zM271.00 249.24h1.2v1.2h-1.2zM271.00 253.39h1.2v1.2h-1.2zM271.00 257.55h1.2v1.2h-1.2zM271.00 265.87h1.2v1.2h-1.2zM271.00 270.03h1.2v1.2h-1.2zM271.00 274.20h1.2v1.2h-1.2zM271.00 278.37h1.2v1.2h-1.2zM271.00 282.53h1.2v1.2h-1.2zM271.00 286.70h1.2v1.2h-1.2zM271.00 290.87h1.2v1.2h-1.2zM271.00 295.03h1.2v1.2h-1.2zM271.00 299.20h1.2v1.2h-1.2zM271.00 303.37h1.2v1.2h-1.2zM271.00 307.53h1.2v1.2h-1.2zM271.00 311.70h1.2v1.2h-1.2zM271.00 315.87h1.2v1.2h-1.2zM271.00 320.03h1.2v1.2h-1.2zM271.00 328.37h1.2v1.2h-1.2zM271.00 332.55h1.2v1.2h-1.2zM271.00 336.72h1.2v1.2h-1.2zM271.00 340.89h1.2v1.2h-1.2zM271.00 345.07h1.2v1.2h-1.2zM271.00 349.24h1.2v1.2h-1.2zM271.00 353.41h1.2v1.2h-1.2zM271.00 357.59h1.2v1.2h-1.2zM271.00 361.76h1.2v1.2h-1.2zM271.00 365.93h1.2v1.2h-1.2zM271.00 370.11h1.2v1.2h-1.2zM271.00 374.28h1.2v1.2h-1.2zM271.00 378.45h1.2v1.2h-1.2zM271.00 382.63h1.2v1.2h-1.2zM271.00 390.99h1.2v1.2h-1.2zM271.00 395.18h1.2v1.2h-1.2zM271.00 399.37h1.2v1.2h-1.2zM271.00 403.56h1.2v1.2h-1.2zM271.00 407.75h1.2v1.2h-1.2zM271.00 411.94h1.2v1.2h-1.2zM271.00 416.13h1.2v1.2h-1.2zM271.00 420.32h1.2v1.2h-1.2zM271.00 424.51h1.2v1.2h-1.2zM271.00 428.70h1.2v1.2h-1.2zM271.00 432.89h1.2v1.2h-1.2zM271.00 437.08h1.2v1.2h-1.2zM271.00 441.27h1.2v1.2h-1.2zM271.00 445.46h1.2v1.2h-1.2zM101.60 211.86h1.2v1.2h-1.2zM105.73 211.86h1.2v1.2h-1.2zM114.00 211.86h1.2v1.2h-1.2zM118.13 211.86h1.2v1.2h-1.2zM126.39 211.86h1.2v1.2h-1.2zM130.52 211.86h1.2v1.2h-1.2zM138.79 211.86h1.2v1.2h-1.2zM142.92 211.86h1.2v1.2h-1.2zM151.18 211.86h1.2v1.2h-1.2zM155.31 211.86h1.2v1.2h-1.2zM163.58 211.86h1.2v1.2h-1.2zM167.71 211.86h1.2v1.2h-1.2zM175.97 211.86h1.2v1.2h-1.2zM180.11 211.86h1.2v1.2h-1.2zM188.37 211.86h1.2v1.2h-1.2zM192.50 211.86h1.2v1.2h-1.2zM200.76 211.86h1.2v1.2h-1.2zM204.90 211.86h1.2v1.2h-1.2zM213.16 211.86h1.2v1.2h-1.2zM217.29 211.86h1.2v1.2h-1.2zM225.56 211.86h1.2v1.2h-1.2zM229.69 211.86h1.2v1.2h-1.2zM237.95 211.86h1.2v1.2h-1.2zM242.08 211.86h1.2v1.2h-1.2zM250.35 211.86h1.2v1.2h-1.2zM254.48 211.86h1.2v1.2h-1.2zM262.74 211.86h1.2v1.2h-1.2zM266.87 211.86h1.2v1.2h-1.2zM275.14 211.86h1.2v1.2h-1.2zM279.27 211.86h1.2v1.2h-1.2zM101.60 224.32h1.2v1.2h-1.2zM105.73 224.32h1.2v1.2h-1.2zM114.00 224.32h1.2v1.2h-1.2zM118.13 224.32h1.2v1.2h-1.2zM126.39 224.32h1.2v1.2h-1.2zM130.52 224.32h1.2v1.2h-1.2zM138.79 224.32h1.2v1.2h-1.2zM142.92 224.32h1.2v1.2h-1.2zM151.18 224.32h1.2v1.2h-1.2zM155.31 224.32h1.2v1.2h-1.2zM163.58 224.32h1.2v1.2h-1.2zM167.71 224.32h1.2v1.2h-1.2zM175.97 224.32h1.2v1.2h-1.2zM180.11 224.32h1.2v1.2h-1.2zM188.37 224.32h1.2v1.2h-1.2zM192.50 224.32h1.2v1.2h-1.2zM200.76 224.32h1.2v1.2h-1.2zM204.90 224.32h1.2v1.2h-1.2zM213.16 224.32h1.2v1.2h-1.2zM217.29 224.32h1.2v1.2h-1.2zM225.56 224.32h1.2v1.2h-1.2zM229.69 224.32h1.2v1.2h-1.2zM237.95 224.32h1.2v1.2h-1.2zM242.08 224.32h1.2v1.2h-1.2zM250.35 224.32h1.2v1.2h-1.2zM254.48 224.32h1.2v1.2h-1.2zM262.74 224.32h1.2v1.2h-1.2zM266.87 224.32h1.2v1.2h-1.2zM275.14 224.32h1.2v1.2h-1.2zM279.27 224.32h1.2v1.2h-1.2zM101.60 236.78h1.2v1.2h-1.2zM105.73 236.78h1.2v1.2h-1.2zM114.00 236.78h1.2v1.2h-1.2zM118.13 236.78h1.2v1.2h-1.2zM126.39 236.78h1.2v1.2h-1.2zM130.52 236.78h1.2v1.2h-1.2zM138.79 236.78h1.2v1.2h-1.2zM142.92 236.78h1.2v1.2h-1.2zM151.18 236.78h1.2v1.2h-1.2zM155.31 236.78h1.2v1.2h-1.2zM163.58 236.78h1.2v1.2h-1.2zM167.71 236.78h1.2v1.2h-1.2zM175.97 236.78h1.2v1.2h-1.2zM180.11 236.78h1.2v1.2h-1.2zM188.37 236.78h1.2v1.2h-1.2zM192.50 236.78h1.2v1.2h-1.2zM200.76 236.78h1.2v1.2h-1.2zM204.90 236.78h1.2v1.2h-1.2zM213.16 236.78h1.2v1.2h-1.2zM217.29 236.78h1.2v1.2h-1.2zM225.56 236.78h1.2v1.2h-1.2zM229.69 236.78h1.2v1.2h-1.2zM237.95 236.78h1.2v1.2h-1.2zM242.08 236.78h1.2v1.2h-1.2zM250.35 236.78h1.2v1.2h-1.2zM254.48 236.78h1.2v1.2h-1.2zM262.74 236.78h1.2v1.2h-1.2zM266.87 236.78h1.2v1.2h-1.2zM275.14 236.78h1.2v1.2h-1.2zM279.27 236.78h1.2v1.2h-1.2zM101.60 249.24h1.2v1.2h-1.2zM105.73 249.24h1.2v1.2h-1.2zM114.00 249.24h1.2v1.2h-1.2zM118.13 249.24h1.2v1.2h-1.2zM126.39 249.24h1.2v1.2h-1.2zM130.52 249.24h1.2v1.2h-1.2zM138.79 249.24h1.2v1.2h-1.2zM142.92 249.24h1.2v1.2h-1.2zM151.18 249.24h1.2v1.2h-1.2zM155.31 249.24h1.2v1.2h-1.2zM163.58 249.24h1.2v1.2h-1.2zM167.71 249.24h1.2v1.2h-1.2zM175.97 249.24h1.2v1.2h-1.2zM180.11 249.24h1.2v1.2h-1.2zM188.37 249.24h1.2v1.2h-1.2zM192.50 249.24h1.2v1.2h-1.2zM200.76 249.24h1.2v1.2h-1.2zM204.90 249.24h1.2v1.2h-1.2zM213.16 249.24h1.2v1.2h-1.2zM217.29 249.24h1.2v1.2h-1.2zM225.56 249.24h1.2v1.2h-1.2zM229.69 249.24h1.2v1.2h-1.2zM237.95 249.24h1.2v1.2h-1.2zM242.08 249.24h1.2v1.2h-1.2zM250.35 249.24h1.2v1.2h-1.2zM254.48 249.24h1.2v1.2h-1.2zM262.74 249.24h1.2v1.2h-1.2zM266.87 249.24h1.2v1.2h-1.2zM275.14 249.24h1.2v1.2h-1.2zM279.27 249.24h1.2v1.2h-1.2zM101.60 274.20h1.2v1.2h-1.2zM105.73 274.20h1.2v1.2h-1.2zM114.00 274.20h1.2v1.2h-1.2zM118.13 274.20h1.2v1.2h-1.2zM126.39 274.20h1.2v1.2h-1.2zM130.52 274.20h1.2v1.2h-1.2zM138.79 274.20h1.2v1.2h-1.2zM142.92 274.20h1.2v1.2h-1.2zM151.18 274.20h1.2v1.2h-1.2zM155.31 274.20h1.2v1.2h-1.2zM163.58 274.20h1.2v1.2h-1.2zM167.71 274.20h1.2v1.2h-1.2zM175.97 274.20h1.2v1.2h-1.2zM180.11 274.20h1.2v1.2h-1.2zM188.37 274.20h1.2v1.2h-1.2zM192.50 274.20h1.2v1.2h-1.2zM200.76 274.20h1.2v1.2h-1.2zM204.90 274.20h1.2v1.2h-1.2zM213.16 274.20h1.2v1.2h-1.2zM217.29 274.20h1.2v1.2h-1.2zM225.56 274.20h1.2v1.2h-1.2zM229.69 274.20h1.2v1.2h-1.2zM237.95 274.20h1.2v1.2h-1.2zM242.08 274.20h1.2v1.2h-1.2zM250.35 274.20h1.2v1.2h-1.2zM254.48 274.20h1.2v1.2h-1.2zM262.74 274.20h1.2v1.2h-1.2zM266.87 274.20h1.2v1.2h-1.2zM275.14 274.20h1.2v1.2h-1.2zM279.27 274.20h1.2v1.2h-1.2zM101.60 286.70h1.2v1.2h-1.2zM105.73 286.70h1.2v1.2h-1.2zM114.00 286.70h1.2v1.2h-1.2zM118.13 286.70h1.2v1.2h-1.2zM126.39 286.70h1.2v1.2h-1.2zM130.52 286.70h1.2v1.2h-1.2zM138.79 286.70h1.2v1.2h-1.2zM142.92 286.70h1.2v1.2h-1.2zM151.18 286.70h1.2v1.2h-1.2zM155.31 286.70h1.2v1.2h-1.2zM163.58 286.70h1.2v1.2h-1.2zM167.71 286.70h1.2v1.2h-1.2zM175.97 286.70h1.2v1.2h-1.2zM180.11 286.70h1.2v1.2h-1.2zM188.37 286.70h1.2v1.2h-1.2zM192.50 286.70h1.2v1.2h-1.2zM200.76 286.70h1.2v1.2h-1.2zM204.90 286.70h1.2v1.2h-1.2zM213.16 286.70h1.2v1.2h-1.2zM217.29 286.70h1.2v1.2h-1.2zM225.56 286.70h1.2v1.2h-1.2zM229.69 286.70h1.2v1.2h-1.2zM237.95 286.70h1.2v1.2h-1.2zM242.08 286.70h1.2v1.2h-1.2zM250.35 286.70h1.2v1.2h-1.2zM254.48 286.70h1.2v1.2h-1.2zM262.74 286.70h1.2v1.2h-1.2zM266.87 286.70h1.2v1.2h-1.2zM275.14 286.70h1.2v1.2h-1.2zM279.27 286.70h1.2v1.2h-1.2zM101.60 299.20h1.2v1.2h-1.2zM105.73 299.20h1.2v1.2h-1.2zM114.00 299.20h1.2v1.2h-1.2zM118.13 299.20h1.2v1.2h-1.2zM126.39 299.20h1.2v1.2h-1.2zM130.52 299.20h1.2v1.2h-1.2zM138.79 299.20h1.2v1.2h-1.2zM142.92 299.20h1.2v1.2h-1.2zM151.18 299.20h1.2v1.2h-1.2zM155.31 299.20h1.2v1.2h-1.2zM163.58 299.20h1.2v1.2h-1.2zM167.71 299.20h1.2v1.2h-1.2zM175.97 299.20h1.2v1.2h-1.2zM180.11 299.20h1.2v1.2h-1.2zM188.37 299.20h1.2v1.2h-1.2zM192.50 299.20h1.2v1.2h-1.2zM200.76 299.20h1.2v1.2h-1.2zM204.90 299.20h1.2v1.2h-1.2zM213.16 299.20h1.2v1.2h-1.2zM217.29 299.20h1.2v1.2h-1.2zM225.56 299.20h1.2v1.2h-1.2zM229.69 299.20h1.2v1.2h-1.2zM237.95 299.20h1.2v1.2h-1.2zM242.08 299.20h1.2v1.2h-1.2zM250.35 299.20h1.2v1.2h-1.2zM254.48 299.20h1.2v1.2h-1.2zM262.74 299.20h1.2v1.2h-1.2zM266.87 299.20h1.2v1.2h-1.2zM275.14 299.20h1.2v1.2h-1.2zM279.27 299.20h1.2v1.2h-1.2zM101.60 311.70h1.2v1.2h-1.2zM105.73 311.70h1.2v1.2h-1.2zM114.00 311.70h1.2v1.2h-1.2zM118.13 311.70h1.2v1.2h-1.2zM126.39 311.70h1.2v1.2h-1.2zM130.52 311.70h1.2v1.2h-1.2zM138.79 311.70h1.2v1.2h-1.2zM142.92 311.70h1.2v1.2h-1.2zM151.18 311.70h1.2v1.2h-1.2zM155.31 311.70h1.2v1.2h-1.2zM163.58 311.70h1.2v1.2h-1.2zM167.71 311.70h1.2v1.2h-1.2zM175.97 311.70h1.2v1.2h-1.2zM180.11 311.70h1.2v1.2h-1.2zM188.37 311.70h1.2v1.2h-1.2zM192.50 311.70h1.2v1.2h-1.2zM200.76 311.70h1.2v1.2h-1.2zM204.90 311.70h1.2v1.2h-1.2zM213.16 311.70h1.2v1.2h-1.2zM217.29 311.70h1.2v1.2h-1.2zM225.56 311.70h1.2v1.2h-1.2zM229.69 311.70h1.2v1.2h-1.2zM237.95 311.70h1.2v1.2h-1.2zM242.08 311.70h1.2v1.2h-1.2zM250.35 311.70h1.2v1.2h-1.2zM254.48 311.70h1.2v1.2h-1.2zM262.74 311.70h1.2v1.2h-1.2zM266.87 311.70h1.2v1.2h-1.2zM275.14 311.70h1.2v1.2h-1.2zM279.27 311.70h1.2v1.2h-1.2zM101.60 336.72h1.2v1.2h-1.2zM105.73 336.72h1.2v1.2h-1.2zM114.00 336.72h1.2v1.2h-1.2zM118.13 336.72h1.2v1.2h-1.2zM126.39 336.72h1.2v1.2h-1.2zM130.52 336.72h1.2v1.2h-1.2zM138.79 336.72h1.2v1.2h-1.2zM142.92 336.72h1.2v1.2h-1.2zM151.18 336.72h1.2v1.2h-1.2zM155.31 336.72h1.2v1.2h-1.2zM163.58 336.72h1.2v1.2h-1.2zM167.71 336.72h1.2v1.2h-1.2zM175.97 336.72h1.2v1.2h-1.2zM180.11 336.72h1.2v1.2h-1.2zM188.37 336.72h1.2v1.2h-1.2zM192.50 336.72h1.2v1.2h-1.2zM200.76 336.72h1.2v1.2h-1.2zM204.90 336.72h1.2v1.2h-1.2zM213.16 336.72h1.2v1.2h-1.2zM217.29 336.72h1.2v1.2h-1.2zM225.56 336.72h1.2v1.2h-1.2zM229.69 336.72h1.2v1.2h-1.2zM237.95 336.72h1.2v1.2h-1.2zM242.08 336.72h1.2v1.2h-1.2zM250.35 336.72h1.2v1.2h-1.2zM254.48 336.72h1.2v1.2h-1.2zM262.74 336.72h1.2v1.2h-1.2zM266.87 336.72h1.2v1.2h-1.2zM275.14 336.72h1.2v1.2h-1.2zM279.27 336.72h1.2v1.2h-1.2zM101.60 349.24h1.2v1.2h-1.2zM105.73 349.24h1.2v1.2h-1.2zM114.00 349.24h1.2v1.2h-1.2zM118.13 349.24h1.2v1.2h-1.2zM126.39 349.24h1.2v1.2h-1.2zM130.52 349.24h1.2v1.2h-1.2zM138.79 349.24h1.2v1.2h-1.2zM142.92 349.24h1.2v1.2h-1.2zM151.18 349.24h1.2v1.2h-1.2zM155.31 349.24h1.2v1.2h-1.2zM163.58 349.24h1.2v1.2h-1.2zM167.71 349.24h1.2v1.2h-1.2zM175.97 349.24h1.2v1.2h-1.2zM180.11 349.24h1.2v1.2h-1.2zM188.37 349.24h1.2v1.2h-1.2zM192.50 349.24h1.2v1.2h-1.2zM200.76 349.24h1.2v1.2h-1.2zM204.90 349.24h1.2v1.2h-1.2zM213.16 349.24h1.2v1.2h-1.2zM217.29 349.24h1.2v1.2h-1.2zM225.56 349.24h1.2v1.2h-1.2zM229.69 349.24h1.2v1.2h-1.2zM237.95 349.24h1.2v1.2h-1.2zM242.08 349.24h1.2v1.2h-1.2zM250.35 349.24h1.2v1.2h-1.2zM254.48 349.24h1.2v1.2h-1.2zM262.74 349.24h1.2v1.2h-1.2zM266.87 349.24h1.2v1.2h-1.2zM275.14 349.24h1.2v1.2h-1.2zM279.27 349.24h1.2v1.2h-1.2zM101.60 361.76h1.2v1.2h-1.2zM105.73 361.76h1.2v1.2h-1.2zM114.00 361.76h1.2v1.2h-1.2zM118.13 361.76h1.2v1.2h-1.2zM126.39 361.76h1.2v1.2h-1.2zM130.52 361.76h1.2v1.2h-1.2zM138.79 361.76h1.2v1.2h-1.2zM142.92 361.76h1.2v1.2h-1.2zM151.18 361.76h1.2v1.2h-1.2zM155.31 361.76h1.2v1.2h-1.2zM163.58 361.76h1.2v1.2h-1.2zM167.71 361.76h1.2v1.2h-1.2zM175.97 361.76h1.2v1.2h-1.2zM180.11 361.76h1.2v1.2h-1.2zM188.37 361.76h1.2v1.2h-1.2zM192.50 361.76h1.2v1.2h-1.2zM200.76 361.76h1.2v1.2h-1.2zM204.90 361.76h1.2v1.2h-1.2zM213.16 361.76h1.2v1.2h-1.2zM217.29 361.76h1.2v1.2h-1.2zM225.56 361.76h1.2v1.2h-1.2zM229.69 361.76h1.2v1.2h-1.2zM237.95 361.76h1.2v1.2h-1.2zM242.08 361.76h1.2v1.2h-1.2zM250.35 361.76h1.2v1.2h-1.2zM254.48 361.76h1.2v1.2h-1.2zM262.74 361.76h1.2v1.2h-1.2zM266.87 361.76h1.2v1.2h-1.2zM275.14 361.76h1.2v1.2h-1.2zM279.27 361.76h1.2v1.2h-1.2zM101.60 374.28h1.2v1.2h-1.2zM105.73 374.28h1.2v1.2h-1.2zM114.00 374.28h1.2v1.2h-1.2zM118.13 374.28h1.2v1.2h-1.2zM126.39 374.28h1.2v1.2h-1.2zM130.52 374.28h1.2v1.2h-1.2zM138.79 374.28h1.2v1.2h-1.2zM142.92 374.28h1.2v1.2h-1.2zM151.18 374.28h1.2v1.2h-1.2zM155.31 374.28h1.2v1.2h-1.2zM163.58 374.28h1.2v1.2h-1.2zM167.71 374.28h1.2v1.2h-1.2zM175.97 374.28h1.2v1.2h-1.2zM180.11 374.28h1.2v1.2h-1.2zM188.37 374.28h1.2v1.2h-1.2zM192.50 374.28h1.2v1.2h-1.2zM200.76 374.28h1.2v1.2h-1.2zM204.90 374.28h1.2v1.2h-1.2zM213.16 374.28h1.2v1.2h-1.2zM217.29 374.28h1.2v1.2h-1.2zM225.56 374.28h1.2v1.2h-1.2zM229.69 374.28h1.2v1.2h-1.2zM237.95 374.28h1.2v1.2h-1.2zM242.08 374.28h1.2v1.2h-1.2zM250.35 374.28h1.2v1.2h-1.2zM254.48 374.28h1.2v1.2h-1.2zM262.74 374.28h1.2v1.2h-1.2zM266.87 374.28h1.2v1.2h-1.2zM275.14 374.28h1.2v1.2h-1.2zM279.27 374.28h1.2v1.2h-1.2zM101.60 399.37h1.2v1.2h-1.2zM105.73 399.37h1.2v1.2h-1.2zM114.00 399.37h1.2v1.2h-1.2zM118.13 399.37h1.2v1.2h-1.2zM126.39 399.37h1.2v1.2h-1.2zM130.52 399.37h1.2v1.2h-1.2zM138.79 399.37h1.2v1.2h-1.2zM142.92 399.37h1.2v1.2h-1.2zM151.18 399.37h1.2v1.2h-1.2zM155.31 399.37h1.2v1.2h-1.2zM163.58 399.37h1.2v1.2h-1.2zM167.71 399.37h1.2v1.2h-1.2zM175.97 399.37h1.2v1.2h-1.2zM180.11 399.37h1.2v1.2h-1.2zM188.37 399.37h1.2v1.2h-1.2zM192.50 399.37h1.2v1.2h-1.2zM200.76 399.37h1.2v1.2h-1.2zM204.90 399.37h1.2v1.2h-1.2zM213.16 399.37h1.2v1.2h-1.2zM217.29 399.37h1.2v1.2h-1.2zM225.56 399.37h1.2v1.2h-1.2zM229.69 399.37h1.2v1.2h-1.2zM237.95 399.37h1.2v1.2h-1.2zM242.08 399.37h1.2v1.2h-1.2zM250.35 399.37h1.2v1.2h-1.2zM254.48 399.37h1.2v1.2h-1.2zM262.74 399.37h1.2v1.2h-1.2zM266.87 399.37h1.2v1.2h-1.2zM275.14 399.37h1.2v1.2h-1.2zM279.27 399.37h1.2v1.2h-1.2zM101.60 411.94h1.2v1.2h-1.2zM105.73 411.94h1.2v1.2h-1.2zM114.00 411.94h1.2v1.2h-1.2zM118.13 411.94h1.2v1.2h-1.2zM126.39 411.94h1.2v1.2h-1.2zM130.52 411.94h1.2v1.2h-1.2zM138.79 411.94h1.2v1.2h-1.2zM142.92 411.94h1.2v1.2h-1.2zM151.18 411.94h1.2v1.2h-1.2zM155.31 411.94h1.2v1.2h-1.2zM163.58 411.94h1.2v1.2h-1.2zM167.71 411.94h1.2v1.2h-1.2zM175.97 411.94h1.2v1.2h-1.2zM180.11 411.94h1.2v1.2h-1.2zM188.37 411.94h1.2v1.2h-1.2zM192.50 411.94h1.2v1.2h-1.2zM200.76 411.94h1.2v1.2h-1.2zM204.90 411.94h1.2v1.2h-1.2zM213.16 411.94h1.2v1.2h-1.2zM217.29 411.94h1.2v1.2h-1.2zM225.56 411.94h1.2v1.2h-1.2zM229.69 411.94h1.2v1.2h-1.2zM237.95 411.94h1.2v1.2h-1.2zM242.08 411.94h1.2v1.2h-1.2zM250.35 411.94h1.2v1.2h-1.2zM254.48 411.94h1.2v1.2h-1.2zM262.74 411.94h1.2v1.2h-1.2zM266.87 411.94h1.2v1.2h-1.2zM275.14 411.94h1.2v1.2h-1.2zM279.27 411.94h1.2v1.2h-1.2zM101.60 424.51h1.2v1.2h-1.2zM105.73 424.51h1.2v1.2h-1.2zM114.00 424.51h1.2v1.2h-1.2zM118.13 424.51h1.2v1.2h-1.2zM126.39 424.51h1.2v1.2h-1.2zM130.52 424.51h1.2v1.2h-1.2zM138.79 424.51h1.2v1.2h-1.2zM142.92 424.51h1.2v1.2h-1.2zM151.18 424.51h1.2v1.2h-1.2zM155.31 424.51h1.2v1.2h-1.2zM163.58 424.51h1.2v1.2h-1.2zM167.71 424.51h1.2v1.2h-1.2zM175.97 424.51h1.2v1.2h-1.2zM180.11 424.51h1.2v1.2h-1.2zM188.37 424.51h1.2v1.2h-1.2zM192.50 424.51h1.2v1.2h-1.2zM200.76 424.51h1.2v1.2h-1.2zM204.90 424.51h1.2v1.2h-1.2zM213.16 424.51h1.2v1.2h-1.2zM217.29 424.51h1.2v1.2h-1.2zM225.56 424.51h1.2v1.2h-1.2zM229.69 424.51h1.2v1.2h-1.2zM237.95 424.51h1.2v1.2h-1.2zM242.08 424.51h1.2v1.2h-1.2zM250.35 424.51h1.2v1.2h-1.2zM254.48 424.51h1.2v1.2h-1.2zM262.74 424.51h1.2v1.2h-1.2zM266.87 424.51h1.2v1.2h-1.2zM275.14 424.51h1.2v1.2h-1.2zM279.27 424.51h1.2v1.2h-1.2zM101.60 437.08h1.2v1.2h-1.2zM105.73 437.08h1.2v1.2h-1.2zM114.00 437.08h1.2v1.2h-1.2zM118.13 437.08h1.2v1.2h-1.2zM126.39 437.08h1.2v1.2h-1.2zM130.52 437.08h1.2v1.2h-1.2zM138.79 437.08h1.2v1.2h-1.2zM142.92 437.08h1.2v1.2h-1.2zM151.18 437.08h1.2v1.2h-1.2zM155.31 437.08h1.2v1.2h-1.2zM163.58 437.08h1.2v1.2h-1.2zM167.71 437.08h1.2v1.2h-1.2zM175.97 437.08h1.2v1.2h-1.2zM180.11 437.08h1.2v1.2h-1.2zM188.37 437.08h1.2v1.2h-1.2zM192.50 437.08h1.2v1.2h-1.2zM200.76 437.08h1.2v1.2h-1.2zM204.90 437.08h1.2v1.2h-1.2zM213.16 437.08h1.2v1.2h-1.2zM217.29 437.08h1.2v1.2h-1.2zM225.56 437.08h1.2v1.2h-1.2zM229.69 437.08h1.2v1.2h-1.2zM237.95 437.08h1.2v1.2h-1.2zM242.08 437.08h1.2v1.2h-1.2zM250.35 437.08h1.2v1.2h-1.2zM254.48 437.08h1.2v1.2h-1.2zM262.74 437.08h1.2v1.2h-1.2zM266.87 437.08h1.2v1.2h-1.2zM275.14 437.08h1.2v1.2h-1.2zM279.27 437.08h1.2v1.2h-1.2z" fill="#3c3c3c"/>
<line x1="160.05" y1="200.00" x2="160.05" y2="450.15" stroke="#242424" stroke-width="1.2"/>
<line x1="222.02" y1="200.00" x2="222.02" y2="450.15" stroke="#242424" stroke-width="1.2"/>
<line x1="98.07" y1="262.30" x2="284.00" y2="262.30" stroke="#242424" stroke-width="1.2"/>
<line x1="98.07" y1="324.80" x2="284.00" y2="324.80" stroke="#242424" stroke-width="1.2"/>
<line x1="98.07" y1="387.40" x2="284.00" y2="387.40" stroke="#242424" stroke-width="1.2"/>
<line x1="98.07" y1="200.00" x2="284.00" y2="200.00" stroke="#242424" stroke-width="1.45"/>
<rect x="98.07" y="139.60" width="185.93" height="310.55" fill="none" stroke="#242424" stroke-width="1.65"/>
<text x="75.68" y="202.30" class="t" textLength="15.00" lengthAdjust="spacingAndGlyphs">1.5</text>
<text x="75.33" y="264.60" class="t" textLength="14.89" lengthAdjust="spacingAndGlyphs">1.0</text>
<text x="75.40" y="327.00" class="t" textLength="14.86" lengthAdjust="spacingAndGlyphs">0.5</text>
<text x="75.05" y="389.70" class="t" textLength="14.75" lengthAdjust="spacingAndGlyphs">0.0</text>
<text x="71.10" y="452.50" class="t" textLength="18.07" lengthAdjust="spacingAndGlyphs">-0.5</text>
<text x="90.31" y="467.30" class="t" textLength="15.19" lengthAdjust="spacingAndGlyphs">-10</text>
<text x="156.79" y="467.30" class="t" textLength="5.50" lengthAdjust="spacingAndGlyphs">0</text>
<text x="216.60" y="467.10" class="t" textLength="11.57" lengthAdjust="spacingAndGlyphs">10</text>
<text x="277.60" y="467.10" class="t" textLength="11.77" lengthAdjust="spacingAndGlyphs">20</text>
<text x="169.02" y="482.10" class="al" textLength="9.57" lengthAdjust="spacingAndGlyphs">α</text>
<text x="183.19" y="482.20" class="ax" textLength="29.47" lengthAdjust="spacingAndGlyphs">(deg)</text>
<text x="52.75" y="284.60" class="cl" textLength="8.94" lengthAdjust="spacingAndGlyphs">C</text>
<text transform="translate(60.74 291.00) skewX(-12) scale(0.8 1.1)" class="ell">&#8467;</text>
<path d="M481.87 203.13h1.2v1.2h-1.2zM481.87 207.32h1.2v1.2h-1.2zM481.87 211.50h1.2v1.2h-1.2zM481.87 215.68h1.2v1.2h-1.2zM481.87 219.87h1.2v1.2h-1.2zM481.87 224.05h1.2v1.2h-1.2zM481.87 228.23h1.2v1.2h-1.2zM481.87 232.42h1.2v1.2h-1.2zM481.87 236.60h1.2v1.2h-1.2zM481.87 240.78h1.2v1.2h-1.2zM481.87 244.97h1.2v1.2h-1.2zM481.87 249.15h1.2v1.2h-1.2zM481.87 253.33h1.2v1.2h-1.2zM481.87 257.52h1.2v1.2h-1.2zM481.87 265.87h1.2v1.2h-1.2zM481.87 270.03h1.2v1.2h-1.2zM481.87 274.20h1.2v1.2h-1.2zM481.87 278.37h1.2v1.2h-1.2zM481.87 282.53h1.2v1.2h-1.2zM481.87 286.70h1.2v1.2h-1.2zM481.87 290.87h1.2v1.2h-1.2zM481.87 295.03h1.2v1.2h-1.2zM481.87 299.20h1.2v1.2h-1.2zM481.87 303.37h1.2v1.2h-1.2zM481.87 307.53h1.2v1.2h-1.2zM481.87 311.70h1.2v1.2h-1.2zM481.87 315.87h1.2v1.2h-1.2zM481.87 320.03h1.2v1.2h-1.2zM481.87 328.37h1.2v1.2h-1.2zM481.87 332.55h1.2v1.2h-1.2zM481.87 336.72h1.2v1.2h-1.2zM481.87 340.89h1.2v1.2h-1.2zM481.87 345.07h1.2v1.2h-1.2zM481.87 349.24h1.2v1.2h-1.2zM481.87 353.41h1.2v1.2h-1.2zM481.87 357.59h1.2v1.2h-1.2zM481.87 361.76h1.2v1.2h-1.2zM481.87 365.93h1.2v1.2h-1.2zM481.87 370.11h1.2v1.2h-1.2zM481.87 374.28h1.2v1.2h-1.2zM481.87 378.45h1.2v1.2h-1.2zM481.87 382.63h1.2v1.2h-1.2zM481.87 390.99h1.2v1.2h-1.2zM481.87 395.18h1.2v1.2h-1.2zM481.87 399.37h1.2v1.2h-1.2zM481.87 403.56h1.2v1.2h-1.2zM481.87 407.75h1.2v1.2h-1.2zM481.87 411.94h1.2v1.2h-1.2zM481.87 416.13h1.2v1.2h-1.2zM481.87 420.32h1.2v1.2h-1.2zM481.87 424.51h1.2v1.2h-1.2zM481.87 428.70h1.2v1.2h-1.2zM481.87 432.89h1.2v1.2h-1.2zM481.87 437.08h1.2v1.2h-1.2zM481.87 441.27h1.2v1.2h-1.2zM481.87 445.46h1.2v1.2h-1.2zM494.26 203.13h1.2v1.2h-1.2zM494.26 207.32h1.2v1.2h-1.2zM494.26 211.50h1.2v1.2h-1.2zM494.26 215.68h1.2v1.2h-1.2zM494.26 219.87h1.2v1.2h-1.2zM494.26 224.05h1.2v1.2h-1.2zM494.26 228.23h1.2v1.2h-1.2zM494.26 232.42h1.2v1.2h-1.2zM494.26 236.60h1.2v1.2h-1.2zM494.26 240.78h1.2v1.2h-1.2zM494.26 244.97h1.2v1.2h-1.2zM494.26 249.15h1.2v1.2h-1.2zM494.26 253.33h1.2v1.2h-1.2zM494.26 257.52h1.2v1.2h-1.2zM494.26 265.87h1.2v1.2h-1.2zM494.26 270.03h1.2v1.2h-1.2zM494.26 274.20h1.2v1.2h-1.2zM494.26 278.37h1.2v1.2h-1.2zM494.26 282.53h1.2v1.2h-1.2zM494.26 286.70h1.2v1.2h-1.2zM494.26 290.87h1.2v1.2h-1.2zM494.26 295.03h1.2v1.2h-1.2zM494.26 299.20h1.2v1.2h-1.2zM494.26 303.37h1.2v1.2h-1.2zM494.26 307.53h1.2v1.2h-1.2zM494.26 311.70h1.2v1.2h-1.2zM494.26 315.87h1.2v1.2h-1.2zM494.26 320.03h1.2v1.2h-1.2zM494.26 328.37h1.2v1.2h-1.2zM494.26 332.55h1.2v1.2h-1.2zM494.26 336.72h1.2v1.2h-1.2zM494.26 340.89h1.2v1.2h-1.2zM494.26 345.07h1.2v1.2h-1.2zM494.26 349.24h1.2v1.2h-1.2zM494.26 353.41h1.2v1.2h-1.2zM494.26 357.59h1.2v1.2h-1.2zM494.26 361.76h1.2v1.2h-1.2zM494.26 365.93h1.2v1.2h-1.2zM494.26 370.11h1.2v1.2h-1.2zM494.26 374.28h1.2v1.2h-1.2zM494.26 378.45h1.2v1.2h-1.2zM494.26 382.63h1.2v1.2h-1.2zM494.26 390.99h1.2v1.2h-1.2zM494.26 395.18h1.2v1.2h-1.2zM494.26 399.37h1.2v1.2h-1.2zM494.26 403.56h1.2v1.2h-1.2zM494.26 407.75h1.2v1.2h-1.2zM494.26 411.94h1.2v1.2h-1.2zM494.26 416.13h1.2v1.2h-1.2zM494.26 420.32h1.2v1.2h-1.2zM494.26 424.51h1.2v1.2h-1.2zM494.26 428.70h1.2v1.2h-1.2zM494.26 432.89h1.2v1.2h-1.2zM494.26 437.08h1.2v1.2h-1.2zM494.26 441.27h1.2v1.2h-1.2zM494.26 445.46h1.2v1.2h-1.2zM506.66 203.13h1.2v1.2h-1.2zM506.66 207.32h1.2v1.2h-1.2zM506.66 211.50h1.2v1.2h-1.2zM506.66 215.68h1.2v1.2h-1.2zM506.66 219.87h1.2v1.2h-1.2zM506.66 224.05h1.2v1.2h-1.2zM506.66 228.23h1.2v1.2h-1.2zM506.66 232.42h1.2v1.2h-1.2zM506.66 236.60h1.2v1.2h-1.2zM506.66 240.78h1.2v1.2h-1.2zM506.66 244.97h1.2v1.2h-1.2zM506.66 249.15h1.2v1.2h-1.2zM506.66 253.33h1.2v1.2h-1.2zM506.66 257.52h1.2v1.2h-1.2zM506.66 265.87h1.2v1.2h-1.2zM506.66 270.03h1.2v1.2h-1.2zM506.66 274.20h1.2v1.2h-1.2zM506.66 278.37h1.2v1.2h-1.2zM506.66 282.53h1.2v1.2h-1.2zM506.66 286.70h1.2v1.2h-1.2zM506.66 290.87h1.2v1.2h-1.2zM506.66 295.03h1.2v1.2h-1.2zM506.66 299.20h1.2v1.2h-1.2zM506.66 303.37h1.2v1.2h-1.2zM506.66 307.53h1.2v1.2h-1.2zM506.66 311.70h1.2v1.2h-1.2zM506.66 315.87h1.2v1.2h-1.2zM506.66 320.03h1.2v1.2h-1.2zM506.66 328.37h1.2v1.2h-1.2zM506.66 332.55h1.2v1.2h-1.2zM506.66 336.72h1.2v1.2h-1.2zM506.66 340.89h1.2v1.2h-1.2zM506.66 345.07h1.2v1.2h-1.2zM506.66 349.24h1.2v1.2h-1.2zM506.66 353.41h1.2v1.2h-1.2zM506.66 357.59h1.2v1.2h-1.2zM506.66 361.76h1.2v1.2h-1.2zM506.66 365.93h1.2v1.2h-1.2zM506.66 370.11h1.2v1.2h-1.2zM506.66 374.28h1.2v1.2h-1.2zM506.66 378.45h1.2v1.2h-1.2zM506.66 382.63h1.2v1.2h-1.2zM506.66 390.99h1.2v1.2h-1.2zM506.66 395.18h1.2v1.2h-1.2zM506.66 399.37h1.2v1.2h-1.2zM506.66 403.56h1.2v1.2h-1.2zM506.66 407.75h1.2v1.2h-1.2zM506.66 411.94h1.2v1.2h-1.2zM506.66 416.13h1.2v1.2h-1.2zM506.66 420.32h1.2v1.2h-1.2zM506.66 424.51h1.2v1.2h-1.2zM506.66 428.70h1.2v1.2h-1.2zM506.66 432.89h1.2v1.2h-1.2zM506.66 437.08h1.2v1.2h-1.2zM506.66 441.27h1.2v1.2h-1.2zM506.66 445.46h1.2v1.2h-1.2zM519.05 203.13h1.2v1.2h-1.2zM519.05 207.32h1.2v1.2h-1.2zM519.05 211.50h1.2v1.2h-1.2zM519.05 215.68h1.2v1.2h-1.2zM519.05 219.87h1.2v1.2h-1.2zM519.05 224.05h1.2v1.2h-1.2zM519.05 228.23h1.2v1.2h-1.2zM519.05 232.42h1.2v1.2h-1.2zM519.05 236.60h1.2v1.2h-1.2zM519.05 240.78h1.2v1.2h-1.2zM519.05 244.97h1.2v1.2h-1.2zM519.05 249.15h1.2v1.2h-1.2zM519.05 253.33h1.2v1.2h-1.2zM519.05 257.52h1.2v1.2h-1.2zM519.05 265.87h1.2v1.2h-1.2zM519.05 270.03h1.2v1.2h-1.2zM519.05 274.20h1.2v1.2h-1.2zM519.05 278.37h1.2v1.2h-1.2zM519.05 282.53h1.2v1.2h-1.2zM519.05 286.70h1.2v1.2h-1.2zM519.05 290.87h1.2v1.2h-1.2zM519.05 295.03h1.2v1.2h-1.2zM519.05 299.20h1.2v1.2h-1.2zM519.05 303.37h1.2v1.2h-1.2zM519.05 307.53h1.2v1.2h-1.2zM519.05 311.70h1.2v1.2h-1.2zM519.05 315.87h1.2v1.2h-1.2zM519.05 320.03h1.2v1.2h-1.2zM519.05 328.37h1.2v1.2h-1.2zM519.05 332.55h1.2v1.2h-1.2zM519.05 336.72h1.2v1.2h-1.2zM519.05 340.89h1.2v1.2h-1.2zM519.05 345.07h1.2v1.2h-1.2zM519.05 349.24h1.2v1.2h-1.2zM519.05 353.41h1.2v1.2h-1.2zM519.05 357.59h1.2v1.2h-1.2zM519.05 361.76h1.2v1.2h-1.2zM519.05 365.93h1.2v1.2h-1.2zM519.05 370.11h1.2v1.2h-1.2zM519.05 374.28h1.2v1.2h-1.2zM519.05 378.45h1.2v1.2h-1.2zM519.05 382.63h1.2v1.2h-1.2zM519.05 390.99h1.2v1.2h-1.2zM519.05 395.18h1.2v1.2h-1.2zM519.05 399.37h1.2v1.2h-1.2zM519.05 403.56h1.2v1.2h-1.2zM519.05 407.75h1.2v1.2h-1.2zM519.05 411.94h1.2v1.2h-1.2zM519.05 416.13h1.2v1.2h-1.2zM519.05 420.32h1.2v1.2h-1.2zM519.05 424.51h1.2v1.2h-1.2zM519.05 428.70h1.2v1.2h-1.2zM519.05 432.89h1.2v1.2h-1.2zM519.05 437.08h1.2v1.2h-1.2zM519.05 441.27h1.2v1.2h-1.2zM519.05 445.46h1.2v1.2h-1.2zM543.84 203.13h1.2v1.2h-1.2zM543.84 207.32h1.2v1.2h-1.2zM543.84 211.50h1.2v1.2h-1.2zM543.84 215.68h1.2v1.2h-1.2zM543.84 219.87h1.2v1.2h-1.2zM543.84 224.05h1.2v1.2h-1.2zM543.84 228.23h1.2v1.2h-1.2zM543.84 232.42h1.2v1.2h-1.2zM543.84 236.60h1.2v1.2h-1.2zM543.84 240.78h1.2v1.2h-1.2zM543.84 244.97h1.2v1.2h-1.2zM543.84 249.15h1.2v1.2h-1.2zM543.84 253.33h1.2v1.2h-1.2zM543.84 257.52h1.2v1.2h-1.2zM543.84 265.87h1.2v1.2h-1.2zM543.84 270.03h1.2v1.2h-1.2zM543.84 274.20h1.2v1.2h-1.2zM543.84 278.37h1.2v1.2h-1.2zM543.84 282.53h1.2v1.2h-1.2zM543.84 286.70h1.2v1.2h-1.2zM543.84 290.87h1.2v1.2h-1.2zM543.84 295.03h1.2v1.2h-1.2zM543.84 299.20h1.2v1.2h-1.2zM543.84 303.37h1.2v1.2h-1.2zM543.84 307.53h1.2v1.2h-1.2zM543.84 311.70h1.2v1.2h-1.2zM543.84 315.87h1.2v1.2h-1.2zM543.84 320.03h1.2v1.2h-1.2zM543.84 328.37h1.2v1.2h-1.2zM543.84 332.55h1.2v1.2h-1.2zM543.84 336.72h1.2v1.2h-1.2zM543.84 340.89h1.2v1.2h-1.2zM543.84 345.07h1.2v1.2h-1.2zM543.84 349.24h1.2v1.2h-1.2zM543.84 353.41h1.2v1.2h-1.2zM543.84 357.59h1.2v1.2h-1.2zM543.84 361.76h1.2v1.2h-1.2zM543.84 365.93h1.2v1.2h-1.2zM543.84 370.11h1.2v1.2h-1.2zM543.84 374.28h1.2v1.2h-1.2zM543.84 378.45h1.2v1.2h-1.2zM543.84 382.63h1.2v1.2h-1.2zM543.84 390.99h1.2v1.2h-1.2zM543.84 395.18h1.2v1.2h-1.2zM543.84 399.37h1.2v1.2h-1.2zM543.84 403.56h1.2v1.2h-1.2zM543.84 407.75h1.2v1.2h-1.2zM543.84 411.94h1.2v1.2h-1.2zM543.84 416.13h1.2v1.2h-1.2zM543.84 420.32h1.2v1.2h-1.2zM543.84 424.51h1.2v1.2h-1.2zM543.84 428.70h1.2v1.2h-1.2zM543.84 432.89h1.2v1.2h-1.2zM543.84 437.08h1.2v1.2h-1.2zM543.84 441.27h1.2v1.2h-1.2zM543.84 445.46h1.2v1.2h-1.2zM556.24 203.13h1.2v1.2h-1.2zM556.24 207.32h1.2v1.2h-1.2zM556.24 211.50h1.2v1.2h-1.2zM556.24 215.68h1.2v1.2h-1.2zM556.24 219.87h1.2v1.2h-1.2zM556.24 224.05h1.2v1.2h-1.2zM556.24 228.23h1.2v1.2h-1.2zM556.24 232.42h1.2v1.2h-1.2zM556.24 236.60h1.2v1.2h-1.2zM556.24 240.78h1.2v1.2h-1.2zM556.24 244.97h1.2v1.2h-1.2zM556.24 249.15h1.2v1.2h-1.2zM556.24 253.33h1.2v1.2h-1.2zM556.24 257.52h1.2v1.2h-1.2zM556.24 265.87h1.2v1.2h-1.2zM556.24 270.03h1.2v1.2h-1.2zM556.24 274.20h1.2v1.2h-1.2zM556.24 278.37h1.2v1.2h-1.2zM556.24 282.53h1.2v1.2h-1.2zM556.24 286.70h1.2v1.2h-1.2zM556.24 290.87h1.2v1.2h-1.2zM556.24 295.03h1.2v1.2h-1.2zM556.24 299.20h1.2v1.2h-1.2zM556.24 303.37h1.2v1.2h-1.2zM556.24 307.53h1.2v1.2h-1.2zM556.24 311.70h1.2v1.2h-1.2zM556.24 315.87h1.2v1.2h-1.2zM556.24 320.03h1.2v1.2h-1.2zM556.24 328.37h1.2v1.2h-1.2zM556.24 332.55h1.2v1.2h-1.2zM556.24 336.72h1.2v1.2h-1.2zM556.24 340.89h1.2v1.2h-1.2zM556.24 345.07h1.2v1.2h-1.2zM556.24 349.24h1.2v1.2h-1.2zM556.24 353.41h1.2v1.2h-1.2zM556.24 357.59h1.2v1.2h-1.2zM556.24 361.76h1.2v1.2h-1.2zM556.24 365.93h1.2v1.2h-1.2zM556.24 370.11h1.2v1.2h-1.2zM556.24 374.28h1.2v1.2h-1.2zM556.24 378.45h1.2v1.2h-1.2zM556.24 382.63h1.2v1.2h-1.2zM556.24 390.99h1.2v1.2h-1.2zM556.24 395.18h1.2v1.2h-1.2zM556.24 399.37h1.2v1.2h-1.2zM556.24 403.56h1.2v1.2h-1.2zM556.24 407.75h1.2v1.2h-1.2zM556.24 411.94h1.2v1.2h-1.2zM556.24 416.13h1.2v1.2h-1.2zM556.24 420.32h1.2v1.2h-1.2zM556.24 424.51h1.2v1.2h-1.2zM556.24 428.70h1.2v1.2h-1.2zM556.24 432.89h1.2v1.2h-1.2zM556.24 437.08h1.2v1.2h-1.2zM556.24 441.27h1.2v1.2h-1.2zM556.24 445.46h1.2v1.2h-1.2zM568.63 203.13h1.2v1.2h-1.2zM568.63 207.32h1.2v1.2h-1.2zM568.63 211.50h1.2v1.2h-1.2zM568.63 215.68h1.2v1.2h-1.2zM568.63 219.87h1.2v1.2h-1.2zM568.63 224.05h1.2v1.2h-1.2zM568.63 228.23h1.2v1.2h-1.2zM568.63 232.42h1.2v1.2h-1.2zM568.63 236.60h1.2v1.2h-1.2zM568.63 240.78h1.2v1.2h-1.2zM568.63 244.97h1.2v1.2h-1.2zM568.63 249.15h1.2v1.2h-1.2zM568.63 253.33h1.2v1.2h-1.2zM568.63 257.52h1.2v1.2h-1.2zM568.63 265.87h1.2v1.2h-1.2zM568.63 270.03h1.2v1.2h-1.2zM568.63 274.20h1.2v1.2h-1.2zM568.63 278.37h1.2v1.2h-1.2zM568.63 282.53h1.2v1.2h-1.2zM568.63 286.70h1.2v1.2h-1.2zM568.63 290.87h1.2v1.2h-1.2zM568.63 295.03h1.2v1.2h-1.2zM568.63 299.20h1.2v1.2h-1.2zM568.63 303.37h1.2v1.2h-1.2zM568.63 307.53h1.2v1.2h-1.2zM568.63 311.70h1.2v1.2h-1.2zM568.63 315.87h1.2v1.2h-1.2zM568.63 320.03h1.2v1.2h-1.2zM568.63 328.37h1.2v1.2h-1.2zM568.63 332.55h1.2v1.2h-1.2zM568.63 336.72h1.2v1.2h-1.2zM568.63 340.89h1.2v1.2h-1.2zM568.63 345.07h1.2v1.2h-1.2zM568.63 349.24h1.2v1.2h-1.2zM568.63 353.41h1.2v1.2h-1.2zM568.63 357.59h1.2v1.2h-1.2zM568.63 361.76h1.2v1.2h-1.2zM568.63 365.93h1.2v1.2h-1.2zM568.63 370.11h1.2v1.2h-1.2zM568.63 374.28h1.2v1.2h-1.2zM568.63 378.45h1.2v1.2h-1.2zM568.63 382.63h1.2v1.2h-1.2zM568.63 390.99h1.2v1.2h-1.2zM568.63 395.18h1.2v1.2h-1.2zM568.63 399.37h1.2v1.2h-1.2zM568.63 403.56h1.2v1.2h-1.2zM568.63 407.75h1.2v1.2h-1.2zM568.63 411.94h1.2v1.2h-1.2zM568.63 416.13h1.2v1.2h-1.2zM568.63 420.32h1.2v1.2h-1.2zM568.63 424.51h1.2v1.2h-1.2zM568.63 428.70h1.2v1.2h-1.2zM568.63 432.89h1.2v1.2h-1.2zM568.63 437.08h1.2v1.2h-1.2zM568.63 441.27h1.2v1.2h-1.2zM568.63 445.46h1.2v1.2h-1.2zM581.03 203.13h1.2v1.2h-1.2zM581.03 207.32h1.2v1.2h-1.2zM581.03 211.50h1.2v1.2h-1.2zM581.03 215.68h1.2v1.2h-1.2zM581.03 219.87h1.2v1.2h-1.2zM581.03 224.05h1.2v1.2h-1.2zM581.03 228.23h1.2v1.2h-1.2zM581.03 232.42h1.2v1.2h-1.2zM581.03 236.60h1.2v1.2h-1.2zM581.03 240.78h1.2v1.2h-1.2zM581.03 244.97h1.2v1.2h-1.2zM581.03 249.15h1.2v1.2h-1.2zM581.03 253.33h1.2v1.2h-1.2zM581.03 257.52h1.2v1.2h-1.2zM581.03 265.87h1.2v1.2h-1.2zM581.03 270.03h1.2v1.2h-1.2zM581.03 274.20h1.2v1.2h-1.2zM581.03 278.37h1.2v1.2h-1.2zM581.03 282.53h1.2v1.2h-1.2zM581.03 286.70h1.2v1.2h-1.2zM581.03 290.87h1.2v1.2h-1.2zM581.03 295.03h1.2v1.2h-1.2zM581.03 299.20h1.2v1.2h-1.2zM581.03 303.37h1.2v1.2h-1.2zM581.03 307.53h1.2v1.2h-1.2zM581.03 311.70h1.2v1.2h-1.2zM581.03 315.87h1.2v1.2h-1.2zM581.03 320.03h1.2v1.2h-1.2zM581.03 328.37h1.2v1.2h-1.2zM581.03 332.55h1.2v1.2h-1.2zM581.03 336.72h1.2v1.2h-1.2zM581.03 340.89h1.2v1.2h-1.2zM581.03 345.07h1.2v1.2h-1.2zM581.03 349.24h1.2v1.2h-1.2zM581.03 353.41h1.2v1.2h-1.2zM581.03 357.59h1.2v1.2h-1.2zM581.03 361.76h1.2v1.2h-1.2zM581.03 365.93h1.2v1.2h-1.2zM581.03 370.11h1.2v1.2h-1.2zM581.03 374.28h1.2v1.2h-1.2zM581.03 378.45h1.2v1.2h-1.2zM581.03 382.63h1.2v1.2h-1.2zM581.03 390.99h1.2v1.2h-1.2zM581.03 395.18h1.2v1.2h-1.2zM581.03 399.37h1.2v1.2h-1.2zM581.03 403.56h1.2v1.2h-1.2zM581.03 407.75h1.2v1.2h-1.2zM581.03 411.94h1.2v1.2h-1.2zM581.03 416.13h1.2v1.2h-1.2zM581.03 420.32h1.2v1.2h-1.2zM581.03 424.51h1.2v1.2h-1.2zM581.03 428.70h1.2v1.2h-1.2zM581.03 432.89h1.2v1.2h-1.2zM581.03 437.08h1.2v1.2h-1.2zM581.03 441.27h1.2v1.2h-1.2zM581.03 445.46h1.2v1.2h-1.2zM605.82 203.13h1.2v1.2h-1.2zM605.82 207.32h1.2v1.2h-1.2zM605.82 211.50h1.2v1.2h-1.2zM605.82 215.68h1.2v1.2h-1.2zM605.82 219.87h1.2v1.2h-1.2zM605.82 224.05h1.2v1.2h-1.2zM605.82 228.23h1.2v1.2h-1.2zM605.82 232.42h1.2v1.2h-1.2zM605.82 236.60h1.2v1.2h-1.2zM605.82 240.78h1.2v1.2h-1.2zM605.82 244.97h1.2v1.2h-1.2zM605.82 249.15h1.2v1.2h-1.2zM605.82 253.33h1.2v1.2h-1.2zM605.82 257.52h1.2v1.2h-1.2zM605.82 265.87h1.2v1.2h-1.2zM605.82 270.03h1.2v1.2h-1.2zM605.82 274.20h1.2v1.2h-1.2zM605.82 278.37h1.2v1.2h-1.2zM605.82 282.53h1.2v1.2h-1.2zM605.82 286.70h1.2v1.2h-1.2zM605.82 290.87h1.2v1.2h-1.2zM605.82 295.03h1.2v1.2h-1.2zM605.82 299.20h1.2v1.2h-1.2zM605.82 303.37h1.2v1.2h-1.2zM605.82 307.53h1.2v1.2h-1.2zM605.82 311.70h1.2v1.2h-1.2zM605.82 315.87h1.2v1.2h-1.2zM605.82 320.03h1.2v1.2h-1.2zM605.82 328.37h1.2v1.2h-1.2zM605.82 332.55h1.2v1.2h-1.2zM605.82 336.72h1.2v1.2h-1.2zM605.82 340.89h1.2v1.2h-1.2zM605.82 345.07h1.2v1.2h-1.2zM605.82 349.24h1.2v1.2h-1.2zM605.82 353.41h1.2v1.2h-1.2zM605.82 357.59h1.2v1.2h-1.2zM605.82 361.76h1.2v1.2h-1.2zM605.82 365.93h1.2v1.2h-1.2zM605.82 370.11h1.2v1.2h-1.2zM605.82 374.28h1.2v1.2h-1.2zM605.82 378.45h1.2v1.2h-1.2zM605.82 382.63h1.2v1.2h-1.2zM605.82 390.99h1.2v1.2h-1.2zM605.82 395.18h1.2v1.2h-1.2zM605.82 399.37h1.2v1.2h-1.2zM605.82 403.56h1.2v1.2h-1.2zM605.82 407.75h1.2v1.2h-1.2zM605.82 411.94h1.2v1.2h-1.2zM605.82 416.13h1.2v1.2h-1.2zM605.82 420.32h1.2v1.2h-1.2zM605.82 424.51h1.2v1.2h-1.2zM605.82 428.70h1.2v1.2h-1.2zM605.82 432.89h1.2v1.2h-1.2zM605.82 437.08h1.2v1.2h-1.2zM605.82 441.27h1.2v1.2h-1.2zM605.82 445.46h1.2v1.2h-1.2zM618.21 203.13h1.2v1.2h-1.2zM618.21 207.32h1.2v1.2h-1.2zM618.21 211.50h1.2v1.2h-1.2zM618.21 215.68h1.2v1.2h-1.2zM618.21 219.87h1.2v1.2h-1.2zM618.21 224.05h1.2v1.2h-1.2zM618.21 228.23h1.2v1.2h-1.2zM618.21 232.42h1.2v1.2h-1.2zM618.21 236.60h1.2v1.2h-1.2zM618.21 240.78h1.2v1.2h-1.2zM618.21 244.97h1.2v1.2h-1.2zM618.21 249.15h1.2v1.2h-1.2zM618.21 253.33h1.2v1.2h-1.2zM618.21 257.52h1.2v1.2h-1.2zM618.21 265.87h1.2v1.2h-1.2zM618.21 270.03h1.2v1.2h-1.2zM618.21 274.20h1.2v1.2h-1.2zM618.21 278.37h1.2v1.2h-1.2zM618.21 282.53h1.2v1.2h-1.2zM618.21 286.70h1.2v1.2h-1.2zM618.21 290.87h1.2v1.2h-1.2zM618.21 295.03h1.2v1.2h-1.2zM618.21 299.20h1.2v1.2h-1.2zM618.21 303.37h1.2v1.2h-1.2zM618.21 307.53h1.2v1.2h-1.2zM618.21 311.70h1.2v1.2h-1.2zM618.21 315.87h1.2v1.2h-1.2zM618.21 320.03h1.2v1.2h-1.2zM618.21 328.37h1.2v1.2h-1.2zM618.21 332.55h1.2v1.2h-1.2zM618.21 336.72h1.2v1.2h-1.2zM618.21 340.89h1.2v1.2h-1.2zM618.21 345.07h1.2v1.2h-1.2zM618.21 349.24h1.2v1.2h-1.2zM618.21 353.41h1.2v1.2h-1.2zM618.21 357.59h1.2v1.2h-1.2zM618.21 361.76h1.2v1.2h-1.2zM618.21 365.93h1.2v1.2h-1.2zM618.21 370.11h1.2v1.2h-1.2zM618.21 374.28h1.2v1.2h-1.2zM618.21 378.45h1.2v1.2h-1.2zM618.21 382.63h1.2v1.2h-1.2zM618.21 390.99h1.2v1.2h-1.2zM618.21 395.18h1.2v1.2h-1.2zM618.21 399.37h1.2v1.2h-1.2zM618.21 403.56h1.2v1.2h-1.2zM618.21 407.75h1.2v1.2h-1.2zM618.21 411.94h1.2v1.2h-1.2zM618.21 416.13h1.2v1.2h-1.2zM618.21 420.32h1.2v1.2h-1.2zM618.21 424.51h1.2v1.2h-1.2zM618.21 428.70h1.2v1.2h-1.2zM618.21 432.89h1.2v1.2h-1.2zM618.21 437.08h1.2v1.2h-1.2zM618.21 441.27h1.2v1.2h-1.2zM618.21 445.46h1.2v1.2h-1.2zM630.61 203.13h1.2v1.2h-1.2zM630.61 207.32h1.2v1.2h-1.2zM630.61 211.50h1.2v1.2h-1.2zM630.61 215.68h1.2v1.2h-1.2zM630.61 219.87h1.2v1.2h-1.2zM630.61 224.05h1.2v1.2h-1.2zM630.61 228.23h1.2v1.2h-1.2zM630.61 232.42h1.2v1.2h-1.2zM630.61 236.60h1.2v1.2h-1.2zM630.61 240.78h1.2v1.2h-1.2zM630.61 244.97h1.2v1.2h-1.2zM630.61 249.15h1.2v1.2h-1.2zM630.61 253.33h1.2v1.2h-1.2zM630.61 257.52h1.2v1.2h-1.2zM630.61 265.87h1.2v1.2h-1.2zM630.61 270.03h1.2v1.2h-1.2zM630.61 274.20h1.2v1.2h-1.2zM630.61 278.37h1.2v1.2h-1.2zM630.61 282.53h1.2v1.2h-1.2zM630.61 286.70h1.2v1.2h-1.2zM630.61 290.87h1.2v1.2h-1.2zM630.61 295.03h1.2v1.2h-1.2zM630.61 299.20h1.2v1.2h-1.2zM630.61 303.37h1.2v1.2h-1.2zM630.61 307.53h1.2v1.2h-1.2zM630.61 311.70h1.2v1.2h-1.2zM630.61 315.87h1.2v1.2h-1.2zM630.61 320.03h1.2v1.2h-1.2zM630.61 328.37h1.2v1.2h-1.2zM630.61 332.55h1.2v1.2h-1.2zM630.61 336.72h1.2v1.2h-1.2zM630.61 340.89h1.2v1.2h-1.2zM630.61 345.07h1.2v1.2h-1.2zM630.61 349.24h1.2v1.2h-1.2zM630.61 353.41h1.2v1.2h-1.2zM630.61 357.59h1.2v1.2h-1.2zM630.61 361.76h1.2v1.2h-1.2zM630.61 365.93h1.2v1.2h-1.2zM630.61 370.11h1.2v1.2h-1.2zM630.61 374.28h1.2v1.2h-1.2zM630.61 378.45h1.2v1.2h-1.2zM630.61 382.63h1.2v1.2h-1.2zM630.61 390.99h1.2v1.2h-1.2zM630.61 395.18h1.2v1.2h-1.2zM630.61 399.37h1.2v1.2h-1.2zM630.61 403.56h1.2v1.2h-1.2zM630.61 407.75h1.2v1.2h-1.2zM630.61 411.94h1.2v1.2h-1.2zM630.61 416.13h1.2v1.2h-1.2zM630.61 420.32h1.2v1.2h-1.2zM630.61 424.51h1.2v1.2h-1.2zM630.61 428.70h1.2v1.2h-1.2zM630.61 432.89h1.2v1.2h-1.2zM630.61 437.08h1.2v1.2h-1.2zM630.61 441.27h1.2v1.2h-1.2zM630.61 445.46h1.2v1.2h-1.2zM643.00 203.13h1.2v1.2h-1.2zM643.00 207.32h1.2v1.2h-1.2zM643.00 211.50h1.2v1.2h-1.2zM643.00 215.68h1.2v1.2h-1.2zM643.00 219.87h1.2v1.2h-1.2zM643.00 224.05h1.2v1.2h-1.2zM643.00 228.23h1.2v1.2h-1.2zM643.00 232.42h1.2v1.2h-1.2zM643.00 236.60h1.2v1.2h-1.2zM643.00 240.78h1.2v1.2h-1.2zM643.00 244.97h1.2v1.2h-1.2zM643.00 249.15h1.2v1.2h-1.2zM643.00 253.33h1.2v1.2h-1.2zM643.00 257.52h1.2v1.2h-1.2zM643.00 265.87h1.2v1.2h-1.2zM643.00 270.03h1.2v1.2h-1.2zM643.00 274.20h1.2v1.2h-1.2zM643.00 278.37h1.2v1.2h-1.2zM643.00 282.53h1.2v1.2h-1.2zM643.00 286.70h1.2v1.2h-1.2zM643.00 290.87h1.2v1.2h-1.2zM643.00 295.03h1.2v1.2h-1.2zM643.00 299.20h1.2v1.2h-1.2zM643.00 303.37h1.2v1.2h-1.2zM643.00 307.53h1.2v1.2h-1.2zM643.00 311.70h1.2v1.2h-1.2zM643.00 315.87h1.2v1.2h-1.2zM643.00 320.03h1.2v1.2h-1.2zM643.00 328.37h1.2v1.2h-1.2zM643.00 332.55h1.2v1.2h-1.2zM643.00 336.72h1.2v1.2h-1.2zM643.00 340.89h1.2v1.2h-1.2zM643.00 345.07h1.2v1.2h-1.2zM643.00 349.24h1.2v1.2h-1.2zM643.00 353.41h1.2v1.2h-1.2zM643.00 357.59h1.2v1.2h-1.2zM643.00 361.76h1.2v1.2h-1.2zM643.00 365.93h1.2v1.2h-1.2zM643.00 370.11h1.2v1.2h-1.2zM643.00 374.28h1.2v1.2h-1.2zM643.00 378.45h1.2v1.2h-1.2zM643.00 382.63h1.2v1.2h-1.2zM643.00 390.99h1.2v1.2h-1.2zM643.00 395.18h1.2v1.2h-1.2zM643.00 399.37h1.2v1.2h-1.2zM643.00 403.56h1.2v1.2h-1.2zM643.00 407.75h1.2v1.2h-1.2zM643.00 411.94h1.2v1.2h-1.2zM643.00 416.13h1.2v1.2h-1.2zM643.00 420.32h1.2v1.2h-1.2zM643.00 424.51h1.2v1.2h-1.2zM643.00 428.70h1.2v1.2h-1.2zM643.00 432.89h1.2v1.2h-1.2zM643.00 437.08h1.2v1.2h-1.2zM643.00 441.27h1.2v1.2h-1.2zM643.00 445.46h1.2v1.2h-1.2zM473.60 211.50h1.2v1.2h-1.2zM477.73 211.50h1.2v1.2h-1.2zM486.00 211.50h1.2v1.2h-1.2zM490.13 211.50h1.2v1.2h-1.2zM498.39 211.50h1.2v1.2h-1.2zM502.52 211.50h1.2v1.2h-1.2zM510.79 211.50h1.2v1.2h-1.2zM514.92 211.50h1.2v1.2h-1.2zM523.18 211.50h1.2v1.2h-1.2zM527.31 211.50h1.2v1.2h-1.2zM535.58 211.50h1.2v1.2h-1.2zM539.71 211.50h1.2v1.2h-1.2zM547.97 211.50h1.2v1.2h-1.2zM552.11 211.50h1.2v1.2h-1.2zM560.37 211.50h1.2v1.2h-1.2zM564.50 211.50h1.2v1.2h-1.2zM572.76 211.50h1.2v1.2h-1.2zM576.90 211.50h1.2v1.2h-1.2zM585.16 211.50h1.2v1.2h-1.2zM589.29 211.50h1.2v1.2h-1.2zM597.56 211.50h1.2v1.2h-1.2zM601.69 211.50h1.2v1.2h-1.2zM609.95 211.50h1.2v1.2h-1.2zM614.08 211.50h1.2v1.2h-1.2zM622.35 211.50h1.2v1.2h-1.2zM626.48 211.50h1.2v1.2h-1.2zM634.74 211.50h1.2v1.2h-1.2zM638.87 211.50h1.2v1.2h-1.2zM647.14 211.50h1.2v1.2h-1.2zM651.27 211.50h1.2v1.2h-1.2zM473.60 224.05h1.2v1.2h-1.2zM477.73 224.05h1.2v1.2h-1.2zM486.00 224.05h1.2v1.2h-1.2zM490.13 224.05h1.2v1.2h-1.2zM498.39 224.05h1.2v1.2h-1.2zM502.52 224.05h1.2v1.2h-1.2zM510.79 224.05h1.2v1.2h-1.2zM514.92 224.05h1.2v1.2h-1.2zM523.18 224.05h1.2v1.2h-1.2zM527.31 224.05h1.2v1.2h-1.2zM535.58 224.05h1.2v1.2h-1.2zM539.71 224.05h1.2v1.2h-1.2zM547.97 224.05h1.2v1.2h-1.2zM552.11 224.05h1.2v1.2h-1.2zM560.37 224.05h1.2v1.2h-1.2zM564.50 224.05h1.2v1.2h-1.2zM572.76 224.05h1.2v1.2h-1.2zM576.90 224.05h1.2v1.2h-1.2zM585.16 224.05h1.2v1.2h-1.2zM589.29 224.05h1.2v1.2h-1.2zM597.56 224.05h1.2v1.2h-1.2zM601.69 224.05h1.2v1.2h-1.2zM609.95 224.05h1.2v1.2h-1.2zM614.08 224.05h1.2v1.2h-1.2zM622.35 224.05h1.2v1.2h-1.2zM626.48 224.05h1.2v1.2h-1.2zM634.74 224.05h1.2v1.2h-1.2zM638.87 224.05h1.2v1.2h-1.2zM647.14 224.05h1.2v1.2h-1.2zM651.27 224.05h1.2v1.2h-1.2zM473.60 236.60h1.2v1.2h-1.2zM477.73 236.60h1.2v1.2h-1.2zM486.00 236.60h1.2v1.2h-1.2zM490.13 236.60h1.2v1.2h-1.2zM498.39 236.60h1.2v1.2h-1.2zM502.52 236.60h1.2v1.2h-1.2zM510.79 236.60h1.2v1.2h-1.2zM514.92 236.60h1.2v1.2h-1.2zM523.18 236.60h1.2v1.2h-1.2zM527.31 236.60h1.2v1.2h-1.2zM535.58 236.60h1.2v1.2h-1.2zM539.71 236.60h1.2v1.2h-1.2zM547.97 236.60h1.2v1.2h-1.2zM552.11 236.60h1.2v1.2h-1.2zM560.37 236.60h1.2v1.2h-1.2zM564.50 236.60h1.2v1.2h-1.2zM572.76 236.60h1.2v1.2h-1.2zM576.90 236.60h1.2v1.2h-1.2zM585.16 236.60h1.2v1.2h-1.2zM589.29 236.60h1.2v1.2h-1.2zM597.56 236.60h1.2v1.2h-1.2zM601.69 236.60h1.2v1.2h-1.2zM609.95 236.60h1.2v1.2h-1.2zM614.08 236.60h1.2v1.2h-1.2zM622.35 236.60h1.2v1.2h-1.2zM626.48 236.60h1.2v1.2h-1.2zM634.74 236.60h1.2v1.2h-1.2zM638.87 236.60h1.2v1.2h-1.2zM647.14 236.60h1.2v1.2h-1.2zM651.27 236.60h1.2v1.2h-1.2zM473.60 249.15h1.2v1.2h-1.2zM477.73 249.15h1.2v1.2h-1.2zM486.00 249.15h1.2v1.2h-1.2zM490.13 249.15h1.2v1.2h-1.2zM498.39 249.15h1.2v1.2h-1.2zM502.52 249.15h1.2v1.2h-1.2zM510.79 249.15h1.2v1.2h-1.2zM514.92 249.15h1.2v1.2h-1.2zM523.18 249.15h1.2v1.2h-1.2zM527.31 249.15h1.2v1.2h-1.2zM535.58 249.15h1.2v1.2h-1.2zM539.71 249.15h1.2v1.2h-1.2zM547.97 249.15h1.2v1.2h-1.2zM552.11 249.15h1.2v1.2h-1.2zM560.37 249.15h1.2v1.2h-1.2zM564.50 249.15h1.2v1.2h-1.2zM572.76 249.15h1.2v1.2h-1.2zM576.90 249.15h1.2v1.2h-1.2zM585.16 249.15h1.2v1.2h-1.2zM589.29 249.15h1.2v1.2h-1.2zM597.56 249.15h1.2v1.2h-1.2zM601.69 249.15h1.2v1.2h-1.2zM609.95 249.15h1.2v1.2h-1.2zM614.08 249.15h1.2v1.2h-1.2zM622.35 249.15h1.2v1.2h-1.2zM626.48 249.15h1.2v1.2h-1.2zM634.74 249.15h1.2v1.2h-1.2zM638.87 249.15h1.2v1.2h-1.2zM647.14 249.15h1.2v1.2h-1.2zM651.27 249.15h1.2v1.2h-1.2zM473.60 274.20h1.2v1.2h-1.2zM477.73 274.20h1.2v1.2h-1.2zM486.00 274.20h1.2v1.2h-1.2zM490.13 274.20h1.2v1.2h-1.2zM498.39 274.20h1.2v1.2h-1.2zM502.52 274.20h1.2v1.2h-1.2zM510.79 274.20h1.2v1.2h-1.2zM514.92 274.20h1.2v1.2h-1.2zM523.18 274.20h1.2v1.2h-1.2zM527.31 274.20h1.2v1.2h-1.2zM535.58 274.20h1.2v1.2h-1.2zM539.71 274.20h1.2v1.2h-1.2zM547.97 274.20h1.2v1.2h-1.2zM552.11 274.20h1.2v1.2h-1.2zM560.37 274.20h1.2v1.2h-1.2zM564.50 274.20h1.2v1.2h-1.2zM572.76 274.20h1.2v1.2h-1.2zM576.90 274.20h1.2v1.2h-1.2zM585.16 274.20h1.2v1.2h-1.2zM589.29 274.20h1.2v1.2h-1.2zM597.56 274.20h1.2v1.2h-1.2zM601.69 274.20h1.2v1.2h-1.2zM609.95 274.20h1.2v1.2h-1.2zM614.08 274.20h1.2v1.2h-1.2zM622.35 274.20h1.2v1.2h-1.2zM626.48 274.20h1.2v1.2h-1.2zM634.74 274.20h1.2v1.2h-1.2zM638.87 274.20h1.2v1.2h-1.2zM647.14 274.20h1.2v1.2h-1.2zM651.27 274.20h1.2v1.2h-1.2zM473.60 286.70h1.2v1.2h-1.2zM477.73 286.70h1.2v1.2h-1.2zM486.00 286.70h1.2v1.2h-1.2zM490.13 286.70h1.2v1.2h-1.2zM498.39 286.70h1.2v1.2h-1.2zM502.52 286.70h1.2v1.2h-1.2zM510.79 286.70h1.2v1.2h-1.2zM514.92 286.70h1.2v1.2h-1.2zM523.18 286.70h1.2v1.2h-1.2zM527.31 286.70h1.2v1.2h-1.2zM535.58 286.70h1.2v1.2h-1.2zM539.71 286.70h1.2v1.2h-1.2zM547.97 286.70h1.2v1.2h-1.2zM552.11 286.70h1.2v1.2h-1.2zM560.37 286.70h1.2v1.2h-1.2zM564.50 286.70h1.2v1.2h-1.2zM572.76 286.70h1.2v1.2h-1.2zM576.90 286.70h1.2v1.2h-1.2zM585.16 286.70h1.2v1.2h-1.2zM589.29 286.70h1.2v1.2h-1.2zM597.56 286.70h1.2v1.2h-1.2zM601.69 286.70h1.2v1.2h-1.2zM609.95 286.70h1.2v1.2h-1.2zM614.08 286.70h1.2v1.2h-1.2zM622.35 286.70h1.2v1.2h-1.2zM626.48 286.70h1.2v1.2h-1.2zM634.74 286.70h1.2v1.2h-1.2zM638.87 286.70h1.2v1.2h-1.2zM647.14 286.70h1.2v1.2h-1.2zM651.27 286.70h1.2v1.2h-1.2zM473.60 299.20h1.2v1.2h-1.2zM477.73 299.20h1.2v1.2h-1.2zM486.00 299.20h1.2v1.2h-1.2zM490.13 299.20h1.2v1.2h-1.2zM498.39 299.20h1.2v1.2h-1.2zM502.52 299.20h1.2v1.2h-1.2zM510.79 299.20h1.2v1.2h-1.2zM514.92 299.20h1.2v1.2h-1.2zM523.18 299.20h1.2v1.2h-1.2zM527.31 299.20h1.2v1.2h-1.2zM535.58 299.20h1.2v1.2h-1.2zM539.71 299.20h1.2v1.2h-1.2zM547.97 299.20h1.2v1.2h-1.2zM552.11 299.20h1.2v1.2h-1.2zM560.37 299.20h1.2v1.2h-1.2zM564.50 299.20h1.2v1.2h-1.2zM572.76 299.20h1.2v1.2h-1.2zM576.90 299.20h1.2v1.2h-1.2zM585.16 299.20h1.2v1.2h-1.2zM589.29 299.20h1.2v1.2h-1.2zM597.56 299.20h1.2v1.2h-1.2zM601.69 299.20h1.2v1.2h-1.2zM609.95 299.20h1.2v1.2h-1.2zM614.08 299.20h1.2v1.2h-1.2zM622.35 299.20h1.2v1.2h-1.2zM626.48 299.20h1.2v1.2h-1.2zM634.74 299.20h1.2v1.2h-1.2zM638.87 299.20h1.2v1.2h-1.2zM647.14 299.20h1.2v1.2h-1.2zM651.27 299.20h1.2v1.2h-1.2zM473.60 311.70h1.2v1.2h-1.2zM477.73 311.70h1.2v1.2h-1.2zM486.00 311.70h1.2v1.2h-1.2zM490.13 311.70h1.2v1.2h-1.2zM498.39 311.70h1.2v1.2h-1.2zM502.52 311.70h1.2v1.2h-1.2zM510.79 311.70h1.2v1.2h-1.2zM514.92 311.70h1.2v1.2h-1.2zM523.18 311.70h1.2v1.2h-1.2zM527.31 311.70h1.2v1.2h-1.2zM535.58 311.70h1.2v1.2h-1.2zM539.71 311.70h1.2v1.2h-1.2zM547.97 311.70h1.2v1.2h-1.2zM552.11 311.70h1.2v1.2h-1.2zM560.37 311.70h1.2v1.2h-1.2zM564.50 311.70h1.2v1.2h-1.2zM572.76 311.70h1.2v1.2h-1.2zM576.90 311.70h1.2v1.2h-1.2zM585.16 311.70h1.2v1.2h-1.2zM589.29 311.70h1.2v1.2h-1.2zM597.56 311.70h1.2v1.2h-1.2zM601.69 311.70h1.2v1.2h-1.2zM609.95 311.70h1.2v1.2h-1.2zM614.08 311.70h1.2v1.2h-1.2zM622.35 311.70h1.2v1.2h-1.2zM626.48 311.70h1.2v1.2h-1.2zM634.74 311.70h1.2v1.2h-1.2zM638.87 311.70h1.2v1.2h-1.2zM647.14 311.70h1.2v1.2h-1.2zM651.27 311.70h1.2v1.2h-1.2zM473.60 336.72h1.2v1.2h-1.2zM477.73 336.72h1.2v1.2h-1.2zM486.00 336.72h1.2v1.2h-1.2zM490.13 336.72h1.2v1.2h-1.2zM498.39 336.72h1.2v1.2h-1.2zM502.52 336.72h1.2v1.2h-1.2zM510.79 336.72h1.2v1.2h-1.2zM514.92 336.72h1.2v1.2h-1.2zM523.18 336.72h1.2v1.2h-1.2zM527.31 336.72h1.2v1.2h-1.2zM535.58 336.72h1.2v1.2h-1.2zM539.71 336.72h1.2v1.2h-1.2zM547.97 336.72h1.2v1.2h-1.2zM552.11 336.72h1.2v1.2h-1.2zM560.37 336.72h1.2v1.2h-1.2zM564.50 336.72h1.2v1.2h-1.2zM572.76 336.72h1.2v1.2h-1.2zM576.90 336.72h1.2v1.2h-1.2zM585.16 336.72h1.2v1.2h-1.2zM589.29 336.72h1.2v1.2h-1.2zM597.56 336.72h1.2v1.2h-1.2zM601.69 336.72h1.2v1.2h-1.2zM609.95 336.72h1.2v1.2h-1.2zM614.08 336.72h1.2v1.2h-1.2zM622.35 336.72h1.2v1.2h-1.2zM626.48 336.72h1.2v1.2h-1.2zM634.74 336.72h1.2v1.2h-1.2zM638.87 336.72h1.2v1.2h-1.2zM647.14 336.72h1.2v1.2h-1.2zM651.27 336.72h1.2v1.2h-1.2zM473.60 349.24h1.2v1.2h-1.2zM477.73 349.24h1.2v1.2h-1.2zM486.00 349.24h1.2v1.2h-1.2zM490.13 349.24h1.2v1.2h-1.2zM498.39 349.24h1.2v1.2h-1.2zM502.52 349.24h1.2v1.2h-1.2zM510.79 349.24h1.2v1.2h-1.2zM514.92 349.24h1.2v1.2h-1.2zM523.18 349.24h1.2v1.2h-1.2zM527.31 349.24h1.2v1.2h-1.2zM535.58 349.24h1.2v1.2h-1.2zM539.71 349.24h1.2v1.2h-1.2zM547.97 349.24h1.2v1.2h-1.2zM552.11 349.24h1.2v1.2h-1.2zM560.37 349.24h1.2v1.2h-1.2zM564.50 349.24h1.2v1.2h-1.2zM572.76 349.24h1.2v1.2h-1.2zM576.90 349.24h1.2v1.2h-1.2zM585.16 349.24h1.2v1.2h-1.2zM589.29 349.24h1.2v1.2h-1.2zM597.56 349.24h1.2v1.2h-1.2zM601.69 349.24h1.2v1.2h-1.2zM609.95 349.24h1.2v1.2h-1.2zM614.08 349.24h1.2v1.2h-1.2zM622.35 349.24h1.2v1.2h-1.2zM626.48 349.24h1.2v1.2h-1.2zM634.74 349.24h1.2v1.2h-1.2zM638.87 349.24h1.2v1.2h-1.2zM647.14 349.24h1.2v1.2h-1.2zM651.27 349.24h1.2v1.2h-1.2zM473.60 361.76h1.2v1.2h-1.2zM477.73 361.76h1.2v1.2h-1.2zM486.00 361.76h1.2v1.2h-1.2zM490.13 361.76h1.2v1.2h-1.2zM498.39 361.76h1.2v1.2h-1.2zM502.52 361.76h1.2v1.2h-1.2zM510.79 361.76h1.2v1.2h-1.2zM514.92 361.76h1.2v1.2h-1.2zM523.18 361.76h1.2v1.2h-1.2zM527.31 361.76h1.2v1.2h-1.2zM535.58 361.76h1.2v1.2h-1.2zM539.71 361.76h1.2v1.2h-1.2zM547.97 361.76h1.2v1.2h-1.2zM552.11 361.76h1.2v1.2h-1.2zM560.37 361.76h1.2v1.2h-1.2zM564.50 361.76h1.2v1.2h-1.2zM572.76 361.76h1.2v1.2h-1.2zM576.90 361.76h1.2v1.2h-1.2zM585.16 361.76h1.2v1.2h-1.2zM589.29 361.76h1.2v1.2h-1.2zM597.56 361.76h1.2v1.2h-1.2zM601.69 361.76h1.2v1.2h-1.2zM609.95 361.76h1.2v1.2h-1.2zM614.08 361.76h1.2v1.2h-1.2zM622.35 361.76h1.2v1.2h-1.2zM626.48 361.76h1.2v1.2h-1.2zM634.74 361.76h1.2v1.2h-1.2zM638.87 361.76h1.2v1.2h-1.2zM647.14 361.76h1.2v1.2h-1.2zM651.27 361.76h1.2v1.2h-1.2zM473.60 374.28h1.2v1.2h-1.2zM477.73 374.28h1.2v1.2h-1.2zM486.00 374.28h1.2v1.2h-1.2zM490.13 374.28h1.2v1.2h-1.2zM498.39 374.28h1.2v1.2h-1.2zM502.52 374.28h1.2v1.2h-1.2zM510.79 374.28h1.2v1.2h-1.2zM514.92 374.28h1.2v1.2h-1.2zM523.18 374.28h1.2v1.2h-1.2zM527.31 374.28h1.2v1.2h-1.2zM535.58 374.28h1.2v1.2h-1.2zM539.71 374.28h1.2v1.2h-1.2zM547.97 374.28h1.2v1.2h-1.2zM552.11 374.28h1.2v1.2h-1.2zM560.37 374.28h1.2v1.2h-1.2zM564.50 374.28h1.2v1.2h-1.2zM572.76 374.28h1.2v1.2h-1.2zM576.90 374.28h1.2v1.2h-1.2zM585.16 374.28h1.2v1.2h-1.2zM589.29 374.28h1.2v1.2h-1.2zM597.56 374.28h1.2v1.2h-1.2zM601.69 374.28h1.2v1.2h-1.2zM609.95 374.28h1.2v1.2h-1.2zM614.08 374.28h1.2v1.2h-1.2zM622.35 374.28h1.2v1.2h-1.2zM626.48 374.28h1.2v1.2h-1.2zM634.74 374.28h1.2v1.2h-1.2zM638.87 374.28h1.2v1.2h-1.2zM647.14 374.28h1.2v1.2h-1.2zM651.27 374.28h1.2v1.2h-1.2zM473.60 399.37h1.2v1.2h-1.2zM477.73 399.37h1.2v1.2h-1.2zM486.00 399.37h1.2v1.2h-1.2zM490.13 399.37h1.2v1.2h-1.2zM498.39 399.37h1.2v1.2h-1.2zM502.52 399.37h1.2v1.2h-1.2zM510.79 399.37h1.2v1.2h-1.2zM514.92 399.37h1.2v1.2h-1.2zM523.18 399.37h1.2v1.2h-1.2zM527.31 399.37h1.2v1.2h-1.2zM535.58 399.37h1.2v1.2h-1.2zM539.71 399.37h1.2v1.2h-1.2zM547.97 399.37h1.2v1.2h-1.2zM552.11 399.37h1.2v1.2h-1.2zM560.37 399.37h1.2v1.2h-1.2zM564.50 399.37h1.2v1.2h-1.2zM572.76 399.37h1.2v1.2h-1.2zM576.90 399.37h1.2v1.2h-1.2zM585.16 399.37h1.2v1.2h-1.2zM589.29 399.37h1.2v1.2h-1.2zM597.56 399.37h1.2v1.2h-1.2zM601.69 399.37h1.2v1.2h-1.2zM609.95 399.37h1.2v1.2h-1.2zM614.08 399.37h1.2v1.2h-1.2zM622.35 399.37h1.2v1.2h-1.2zM626.48 399.37h1.2v1.2h-1.2zM634.74 399.37h1.2v1.2h-1.2zM638.87 399.37h1.2v1.2h-1.2zM647.14 399.37h1.2v1.2h-1.2zM651.27 399.37h1.2v1.2h-1.2zM473.60 411.94h1.2v1.2h-1.2zM477.73 411.94h1.2v1.2h-1.2zM486.00 411.94h1.2v1.2h-1.2zM490.13 411.94h1.2v1.2h-1.2zM498.39 411.94h1.2v1.2h-1.2zM502.52 411.94h1.2v1.2h-1.2zM510.79 411.94h1.2v1.2h-1.2zM514.92 411.94h1.2v1.2h-1.2zM523.18 411.94h1.2v1.2h-1.2zM527.31 411.94h1.2v1.2h-1.2zM535.58 411.94h1.2v1.2h-1.2zM539.71 411.94h1.2v1.2h-1.2zM547.97 411.94h1.2v1.2h-1.2zM552.11 411.94h1.2v1.2h-1.2zM560.37 411.94h1.2v1.2h-1.2zM564.50 411.94h1.2v1.2h-1.2zM572.76 411.94h1.2v1.2h-1.2zM576.90 411.94h1.2v1.2h-1.2zM585.16 411.94h1.2v1.2h-1.2zM589.29 411.94h1.2v1.2h-1.2zM597.56 411.94h1.2v1.2h-1.2zM601.69 411.94h1.2v1.2h-1.2zM609.95 411.94h1.2v1.2h-1.2zM614.08 411.94h1.2v1.2h-1.2zM622.35 411.94h1.2v1.2h-1.2zM626.48 411.94h1.2v1.2h-1.2zM634.74 411.94h1.2v1.2h-1.2zM638.87 411.94h1.2v1.2h-1.2zM647.14 411.94h1.2v1.2h-1.2zM651.27 411.94h1.2v1.2h-1.2zM473.60 424.51h1.2v1.2h-1.2zM477.73 424.51h1.2v1.2h-1.2zM486.00 424.51h1.2v1.2h-1.2zM490.13 424.51h1.2v1.2h-1.2zM498.39 424.51h1.2v1.2h-1.2zM502.52 424.51h1.2v1.2h-1.2zM510.79 424.51h1.2v1.2h-1.2zM514.92 424.51h1.2v1.2h-1.2zM523.18 424.51h1.2v1.2h-1.2zM527.31 424.51h1.2v1.2h-1.2zM535.58 424.51h1.2v1.2h-1.2zM539.71 424.51h1.2v1.2h-1.2zM547.97 424.51h1.2v1.2h-1.2zM552.11 424.51h1.2v1.2h-1.2zM560.37 424.51h1.2v1.2h-1.2zM564.50 424.51h1.2v1.2h-1.2zM572.76 424.51h1.2v1.2h-1.2zM576.90 424.51h1.2v1.2h-1.2zM585.16 424.51h1.2v1.2h-1.2zM589.29 424.51h1.2v1.2h-1.2zM597.56 424.51h1.2v1.2h-1.2zM601.69 424.51h1.2v1.2h-1.2zM609.95 424.51h1.2v1.2h-1.2zM614.08 424.51h1.2v1.2h-1.2zM622.35 424.51h1.2v1.2h-1.2zM626.48 424.51h1.2v1.2h-1.2zM634.74 424.51h1.2v1.2h-1.2zM638.87 424.51h1.2v1.2h-1.2zM647.14 424.51h1.2v1.2h-1.2zM651.27 424.51h1.2v1.2h-1.2zM473.60 437.08h1.2v1.2h-1.2zM477.73 437.08h1.2v1.2h-1.2zM486.00 437.08h1.2v1.2h-1.2zM490.13 437.08h1.2v1.2h-1.2zM498.39 437.08h1.2v1.2h-1.2zM502.52 437.08h1.2v1.2h-1.2zM510.79 437.08h1.2v1.2h-1.2zM514.92 437.08h1.2v1.2h-1.2zM523.18 437.08h1.2v1.2h-1.2zM527.31 437.08h1.2v1.2h-1.2zM535.58 437.08h1.2v1.2h-1.2zM539.71 437.08h1.2v1.2h-1.2zM547.97 437.08h1.2v1.2h-1.2zM552.11 437.08h1.2v1.2h-1.2zM560.37 437.08h1.2v1.2h-1.2zM564.50 437.08h1.2v1.2h-1.2zM572.76 437.08h1.2v1.2h-1.2zM576.90 437.08h1.2v1.2h-1.2zM585.16 437.08h1.2v1.2h-1.2zM589.29 437.08h1.2v1.2h-1.2zM597.56 437.08h1.2v1.2h-1.2zM601.69 437.08h1.2v1.2h-1.2zM609.95 437.08h1.2v1.2h-1.2zM614.08 437.08h1.2v1.2h-1.2zM622.35 437.08h1.2v1.2h-1.2zM626.48 437.08h1.2v1.2h-1.2zM634.74 437.08h1.2v1.2h-1.2zM638.87 437.08h1.2v1.2h-1.2zM647.14 437.08h1.2v1.2h-1.2zM651.27 437.08h1.2v1.2h-1.2z" fill="#3c3c3c"/>
<line x1="532.05" y1="199.55" x2="532.05" y2="450.25" stroke="#242424" stroke-width="1.2"/>
<line x1="594.02" y1="199.55" x2="594.02" y2="450.25" stroke="#242424" stroke-width="1.2"/>
<line x1="470.07" y1="262.30" x2="656.00" y2="262.30" stroke="#242424" stroke-width="1.2"/>
<line x1="470.07" y1="324.80" x2="656.00" y2="324.80" stroke="#242424" stroke-width="1.2"/>
<line x1="470.07" y1="387.40" x2="656.00" y2="387.40" stroke="#242424" stroke-width="1.2"/>
<line x1="470.07" y1="199.55" x2="656.00" y2="199.55" stroke="#242424" stroke-width="1.45"/>
<rect x="470.07" y="138.90" width="185.93" height="311.35" fill="none" stroke="#242424" stroke-width="1.65"/>
<text x="446.78" y="202.30" class="t" textLength="15.00" lengthAdjust="spacingAndGlyphs">1.5</text>
<text x="446.43" y="264.60" class="t" textLength="14.89" lengthAdjust="spacingAndGlyphs">1.0</text>
<text x="446.50" y="327.00" class="t" textLength="14.86" lengthAdjust="spacingAndGlyphs">0.5</text>
<text x="446.15" y="389.70" class="t" textLength="14.75" lengthAdjust="spacingAndGlyphs">0.0</text>
<text x="442.20" y="452.50" class="t" textLength="18.07" lengthAdjust="spacingAndGlyphs">-0.5</text>
<text x="462.31" y="467.30" class="t" textLength="15.19" lengthAdjust="spacingAndGlyphs">-10</text>
<text x="528.79" y="467.30" class="t" textLength="5.50" lengthAdjust="spacingAndGlyphs">0</text>
<text x="588.60" y="467.10" class="t" textLength="11.57" lengthAdjust="spacingAndGlyphs">10</text>
<text x="649.60" y="467.10" class="t" textLength="11.77" lengthAdjust="spacingAndGlyphs">20</text>
<text x="541.02" y="482.10" class="al" textLength="9.57" lengthAdjust="spacingAndGlyphs">α</text>
<text x="555.19" y="482.20" class="ax" textLength="29.47" lengthAdjust="spacingAndGlyphs">(deg)</text>
<text x="423.85" y="284.60" class="cl" textLength="8.94" lengthAdjust="spacingAndGlyphs">C</text>
<text transform="translate(431.84 291.00) skewX(-12) scale(0.8 1.1)" class="ell">&#8467;</text>
<text x="103.22" y="154.50" class="h" textLength="172.11" lengthAdjust="spacingAndGlyphs" xml:space="preserve">RG15 (C)  0 deg flap  (B. Champine)</text>
<text x="103.65" y="165.60" class="h" textLength="76.60" lengthAdjust="spacingAndGlyphs" xml:space="preserve">without covering</text>
<text x="103.17" y="189.00" class="h" textLength="58.13" lengthAdjust="spacingAndGlyphs" xml:space="preserve">Re = 60,000</text>
<text x="477.77" y="154.30" class="h" textLength="172.26" lengthAdjust="spacingAndGlyphs" xml:space="preserve">RG15 (C)  0 deg flap  (B. Champine)</text>
<text x="478.45" y="165.60" class="h" textLength="76.60" lengthAdjust="spacingAndGlyphs" xml:space="preserve">without covering</text>
<text x="478.19" y="188.50" class="h" textLength="62.87" lengthAdjust="spacingAndGlyphs" xml:space="preserve">Re = 100,000</text>
<g fill="none" stroke="#242424" stroke-width="1.15">
<circle cx="117.68" cy="441.60" r="1.75"/>
<circle cx="124.55" cy="428.90" r="1.75"/>
<circle cx="129.60" cy="420.50" r="1.75"/>
<circle cx="136.86" cy="410.20" r="1.75"/>
<circle cx="142.41" cy="401.00" r="1.75"/>
<circle cx="149.57" cy="390.30" r="1.75"/>
<circle cx="156.25" cy="377.00" r="1.75"/>
<circle cx="162.31" cy="365.20" r="1.75"/>
<circle cx="168.53" cy="345.30" r="1.75"/>
<circle cx="174.94" cy="324.90" r="1.75"/>
<circle cx="181.19" cy="316.30" r="1.75"/>
<circle cx="188.95" cy="307.10" r="1.75"/>
<circle cx="194.09" cy="298.80" r="1.75"/>
<circle cx="200.75" cy="288.30" r="1.75"/>
<circle cx="207.20" cy="280.00" r="1.75"/>
<circle cx="213.64" cy="272.90" r="1.75"/>
<circle cx="219.57" cy="268.50" r="1.75"/>
<circle cx="226.30" cy="263.20" r="1.75"/>
<circle cx="231.48" cy="265.00" r="1.75"/>
<circle cx="237.39" cy="264.20" r="1.75"/>
<circle cx="244.75" cy="271.20" r="1.75"/>
<circle cx="250.49" cy="264.80" r="1.75"/>
<circle cx="255.80" cy="262.30" r="1.75"/>
<circle cx="263.24" cy="255.30" r="1.75"/>
<circle cx="489.98" cy="441.10" r="1.75"/>
<circle cx="495.33" cy="432.40" r="1.75"/>
<circle cx="502.29" cy="421.50" r="1.75"/>
<circle cx="508.25" cy="410.70" r="1.75"/>
<circle cx="515.53" cy="398.20" r="1.75"/>
<circle cx="521.78" cy="389.00" r="1.75"/>
<circle cx="527.77" cy="372.30" r="1.75"/>
<circle cx="534.89" cy="351.00" r="1.75"/>
<circle cx="540.19" cy="334.10" r="1.75"/>
<circle cx="546.95" cy="323.00" r="1.75"/>
<circle cx="553.12" cy="311.80" r="1.75"/>
<circle cx="560.89" cy="298.50" r="1.75"/>
<circle cx="566.14" cy="290.30" r="1.75"/>
<circle cx="572.41" cy="278.90" r="1.75"/>
<circle cx="578.66" cy="270.20" r="1.75"/>
<circle cx="584.29" cy="264.70" r="1.75"/>
<circle cx="591.83" cy="257.80" r="1.75"/>
<circle cx="597.05" cy="252.80" r="1.75"/>
<circle cx="603.36" cy="252.70" r="1.75"/>
<circle cx="609.40" cy="262.90" r="1.75"/>
<circle cx="615.06" cy="268.90" r="1.75"/>
<circle cx="622.09" cy="264.90" r="1.75"/>
<circle cx="628.67" cy="268.00" r="1.75"/>
<circle cx="633.48" cy="265.40" r="1.75"/>
</g>
<g fill="#242424">
<path d="M117.68 439.50l2.2 3.8h-4.4z"/>
<path d="M129.38 421.50l2.2 3.8h-4.4z"/>
<path d="M134.62 413.60l2.2 3.8h-4.4z"/>
<path d="M141.08 403.70l2.2 3.8h-4.4z"/>
<path d="M147.23 394.50l2.2 3.8h-4.4z"/>
<path d="M153.50 383.10l2.2 3.8h-4.4z"/>
<path d="M159.27 371.00l2.2 3.8h-4.4z"/>
<path d="M166.89 349.70l2.2 3.8h-4.4z"/>
<path d="M173.11 329.00l2.2 3.8h-4.4z"/>
<path d="M179.28 316.70l2.2 3.8h-4.4z"/>
<path d="M185.82 308.70l2.2 3.8h-4.4z"/>
<path d="M191.69 297.70l2.2 3.8h-4.4z"/>
<path d="M198.24 287.70l2.2 3.8h-4.4z"/>
<path d="M203.99 280.10l2.2 3.8h-4.4z"/>
<path d="M210.63 271.80l2.2 3.8h-4.4z"/>
<path d="M216.76 266.60l2.2 3.8h-4.4z"/>
<path d="M229.51 258.70l2.2 3.8h-4.4z"/>
<path d="M233.89 261.30l2.2 3.8h-4.4z"/>
<path d="M241.38 264.10l2.2 3.8h-4.4z"/>
<path d="M247.85 268.40l2.2 3.8h-4.4z"/>
<path d="M253.68 263.30l2.2 3.8h-4.4z"/>
<path d="M260.11 258.10l2.2 3.8h-4.4z"/>
<path d="M266.75 251.80l2.2 3.8h-4.4z"/>
<path d="M274.18 245.80l2.2 3.8h-4.4z"/>
<path d="M491.17 441.50l2.2 3.8h-4.4z"/>
<path d="M500.89 419.50l2.2 3.8h-4.4z"/>
<path d="M506.64 410.20l2.2 3.8h-4.4z"/>
<path d="M513.20 400.20l2.2 3.8h-4.4z"/>
<path d="M519.45 392.20l2.2 3.8h-4.4z"/>
<path d="M525.12 378.50l2.2 3.8h-4.4z"/>
<path d="M532.47 353.20l2.2 3.8h-4.4z"/>
<path d="M538.46 336.40l2.2 3.8h-4.4z"/>
<path d="M544.43 324.20l2.2 3.8h-4.4z"/>
<path d="M550.40 313.40l2.2 3.8h-4.4z"/>
<path d="M558.27 299.80l2.2 3.8h-4.4z"/>
<path d="M564.43 289.90l2.2 3.8h-4.4z"/>
<path d="M570.19 279.20l2.2 3.8h-4.4z"/>
<path d="M575.74 270.70l2.2 3.8h-4.4z"/>
<path d="M581.68 263.70l2.2 3.8h-4.4z"/>
<path d="M588.31 258.40l2.2 3.8h-4.4z"/>
<path d="M595.94 252.60l2.2 3.8h-4.4z"/>
<path d="M600.74 253.60l2.2 3.8h-4.4z"/>
<path d="M607.21 258.30l2.2 3.8h-4.4z"/>
<path d="M612.49 261.30l2.2 3.8h-4.4z"/>
<path d="M620.06 267.00l2.2 3.8h-4.4z"/>
<path d="M625.97 266.10l2.2 3.8h-4.4z"/>
<path d="M632.96 267.40l2.2 3.8h-4.4z"/>
<path d="M639.16 266.60l2.2 3.8h-4.4z"/>
<path d="M644.89 262.20l2.2 3.8h-4.4z"/>
</g>
</g>
<text transform="translate(739.80 6.23) rotate(89.55)" class="rg" textLength="46.60" lengthAdjust="spacingAndGlyphs">RG15 (C)</text>
<text transform="translate(776.10 29.07) rotate(89.55)" class="pn" textLength="23.85" lengthAdjust="spacingAndGlyphs">104</text>
<text transform="translate(776.50 71.65) rotate(89.55)" class="ti" textLength="221.19" lengthAdjust="spacingAndGlyphs">Summary of Low-Speed Airfoil Data</text>
<text transform="translate(779.60 499.76) rotate(89.55)" class="fg" textLength="53.05" lengthAdjust="spacingAndGlyphs">Fig. 5.56</text>
<ellipse cx="202.0" cy="55.8" rx="2.3" ry="0.95" transform="rotate(16 202 55.8)" fill="#4a4a4a"/>
<circle cx="161.8" cy="500.3" r="0.85" fill="#777"/>
<circle cx="96.1" cy="335.2" r="0.85" fill="#1e1e1e"/>
</svg>
</body></html>
